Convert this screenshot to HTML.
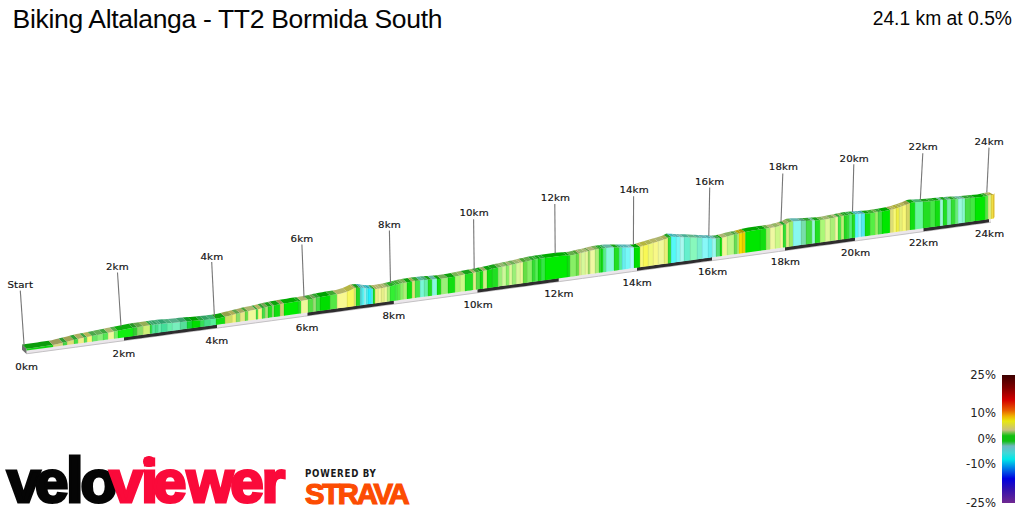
<!DOCTYPE html>
<html><head><meta charset="utf-8">
<style>
html,body{margin:0;padding:0;background:#fff;}
body{width:1024px;height:512px;overflow:hidden;position:relative;font-family:"Liberation Sans",Arial,sans-serif;}
#title{position:absolute;left:12.6px;top:3px;font-size:26.5px;letter-spacing:-0.33px;color:#050505;white-space:nowrap;line-height:32px;}
#dist{position:absolute;right:12px;top:6.8px;font-size:19.3px;color:#050505;white-space:nowrap;line-height:24px;}
svg{position:absolute;left:0;top:0;}
.lbl text{font-family:"DejaVu Sans",Verdana,sans-serif;font-size:9.3px;letter-spacing:0.1px;fill:#111;stroke:#111;stroke-width:0.15px;}
#legend text{font-family:"DejaVu Sans",Verdana,sans-serif;font-size:11.6px;fill:#222;text-anchor:end;}
#vv{position:absolute;left:0px;top:442px;font-family:"Liberation Sans",Arial,sans-serif;font-weight:bold;font-size:60px;padding-left:6.9px;-webkit-text-stroke:3px;line-height:80px;white-space:nowrap;}
#vv .a{color:#050505;-webkit-text-stroke-color:#050505;}
#vv .b{color:#fa0a3a;-webkit-text-stroke-color:#fa0a3a;}
#pb{position:absolute;left:305px;top:468.2px;font-family:"DejaVu Sans Condensed","DejaVu Sans",sans-serif;font-stretch:condensed;font-weight:bold;font-size:9.6px;letter-spacing:0.75px;color:#1a1a1a;line-height:12px;white-space:nowrap;}
#strava{position:absolute;left:305px;top:478.5px;font-family:"Liberation Sans",Arial,sans-serif;font-weight:bold;font-size:29.3px;letter-spacing:-2.3px;color:#fc4c02;-webkit-text-stroke:1.2px #fc4c02;line-height:30px;white-space:nowrap;}
</style></head><body>
<div id="title">Biking Altalanga - TT2 Bormida South</div>
<div id="dist">24.1 km at 0.5%</div>
<svg width="1024" height="512" viewBox="0 0 1024 512">
<defs>
<linearGradient id="lg" x1="0" y1="0" x2="0" y2="1">
<stop offset="0" stop-color="#3c0000"/>
<stop offset="0.10" stop-color="#800000"/>
<stop offset="0.195" stop-color="#d40000"/>
<stop offset="0.277" stop-color="#e86000"/>
<stop offset="0.32" stop-color="#f0b000"/>
<stop offset="0.36" stop-color="#e8e810"/>
<stop offset="0.43" stop-color="#c8c080"/>
<stop offset="0.475" stop-color="#10c010"/>
<stop offset="0.516" stop-color="#10c010"/>
<stop offset="0.555" stop-color="#70b8c0"/>
<stop offset="0.61" stop-color="#40d8d8"/>
<stop offset="0.658" stop-color="#00e8e8"/>
<stop offset="0.715" stop-color="#0090e8"/>
<stop offset="0.81" stop-color="#0000e0"/>
<stop offset="0.89" stop-color="#3010b0"/>
<stop offset="1" stop-color="#702890"/>
</linearGradient>
</defs>
<g id="ribbon">
<polygon points="26.50,350.17 34.54,349.09 42.58,348.01 50.61,346.93 58.65,345.85 66.69,344.77 74.72,343.69 82.76,342.60 90.80,341.52 98.84,340.44 106.88,339.36 114.91,338.27 122.95,337.19 130.99,336.11 139.02,335.02 147.06,333.94 155.10,332.85 163.14,331.77 171.17,330.68 179.21,329.60 187.25,328.51 195.29,327.43 203.32,326.34 211.36,325.25 219.40,324.17 227.44,323.08 235.47,321.99 243.51,320.91 251.55,319.82 259.59,318.73 267.62,317.64 275.66,316.55 283.70,315.47 291.74,314.38 299.77,313.29 307.81,312.20 315.85,311.11 323.89,310.02 331.93,308.93 339.96,307.84 348.00,306.75 356.04,305.65 364.07,304.56 372.11,303.47 380.15,302.38 388.19,301.29 396.22,300.19 404.26,299.10 412.30,298.01 420.34,296.91 428.38,295.82 436.41,294.73 444.45,293.63 452.49,292.54 460.52,291.44 468.56,290.35 476.60,289.25 484.64,288.16 492.67,287.06 500.71,285.97 508.75,284.87 516.79,283.77 524.83,282.68 532.86,281.58 540.90,280.48 548.94,279.38 556.98,278.29 565.01,277.19 573.05,276.09 581.09,274.99 589.12,273.89 597.16,272.79 605.20,271.69 613.24,270.59 621.27,269.49 629.31,268.39 637.35,267.29 645.39,266.19 653.42,265.09 661.46,263.99 669.50,262.89 677.54,261.78 685.57,260.68 693.61,259.58 701.65,258.48 709.69,257.37 717.73,256.27 725.76,255.17 733.80,254.06 741.84,252.96 749.88,251.85 757.91,250.75 765.95,249.65 773.99,248.54 782.02,247.43 790.06,246.33 798.10,245.22 806.14,244.12 814.17,243.01 822.21,241.90 830.25,240.80 838.29,239.69 846.32,238.58 854.36,237.47 862.40,236.36 870.44,235.26 878.47,234.15 886.51,233.04 894.55,231.93 902.59,230.82 910.62,229.71 918.66,228.60 926.70,227.49 934.74,226.38 942.77,225.27 950.81,224.16 958.85,223.05 966.89,221.93 974.92,220.82 982.96,219.71 991.00,218.60 991.00,222.40 982.96,223.51 974.92,224.62 966.89,225.73 958.85,226.85 950.81,227.96 942.77,229.07 934.74,230.18 926.70,231.29 918.66,232.40 910.62,233.51 902.59,234.62 894.55,235.73 886.51,236.84 878.47,237.95 870.44,239.06 862.40,240.16 854.36,241.27 846.32,242.38 838.29,243.49 830.25,244.60 822.21,245.70 814.17,246.81 806.14,247.92 798.10,249.02 790.06,250.13 782.02,251.23 773.99,252.34 765.95,253.45 757.91,254.55 749.88,255.65 741.84,256.76 733.80,257.86 725.76,258.97 717.73,260.07 709.69,261.17 701.65,262.28 693.61,263.38 685.57,264.48 677.54,265.58 669.50,266.69 661.46,267.79 653.42,268.89 645.39,269.99 637.35,271.09 629.31,272.19 621.27,273.29 613.24,274.39 605.20,275.49 597.16,276.59 589.12,277.69 581.09,278.79 573.05,279.89 565.01,280.99 556.98,282.09 548.94,283.18 540.90,284.28 532.86,285.38 524.83,286.48 516.79,287.57 508.75,288.67 500.71,289.77 492.67,290.86 484.64,291.96 476.60,293.05 468.56,294.15 460.52,295.24 452.49,296.34 444.45,297.43 436.41,298.53 428.38,299.62 420.34,300.71 412.30,301.81 404.26,302.90 396.22,303.99 388.19,305.09 380.15,306.18 372.11,307.27 364.07,308.36 356.04,309.45 348.00,310.55 339.96,311.64 331.93,312.73 323.89,313.82 315.85,314.91 307.81,316.00 299.77,317.09 291.74,318.18 283.70,319.27 275.66,320.35 267.62,321.44 259.59,322.53 251.55,323.62 243.51,324.71 235.47,325.79 227.44,326.88 219.40,327.97 211.36,329.05 203.32,330.14 195.29,331.23 187.25,332.31 179.21,333.40 171.17,334.48 163.14,335.57 155.10,336.65 147.06,337.74 139.02,338.82 130.99,339.91 122.95,340.99 114.91,342.07 106.88,343.16 98.84,344.24 90.80,345.32 82.76,346.40 74.72,347.49 66.69,348.57 58.65,349.65 50.61,350.73 42.58,351.81 34.54,352.89 26.50,353.97" fill="#ebe6eb"/>
<polyline points="26.50,353.77 42.85,351.58 59.19,349.38 75.54,347.18 91.89,344.98 108.24,342.77 124.58,340.57 140.93,338.37 157.28,336.16 173.63,333.95 189.97,331.75 206.32,329.54 222.67,327.33 239.02,325.11 255.36,322.90 271.71,320.69 288.06,318.47 304.41,316.26 320.75,314.04 337.10,311.82 353.45,309.61 369.80,307.39 386.14,305.16 402.49,302.94 418.84,300.72 435.19,298.49 451.53,296.27 467.88,294.04 484.23,291.81 500.58,289.58 516.92,287.35 533.27,285.12 549.62,282.89 565.97,280.66 582.31,278.42 598.66,276.19 615.01,273.95 631.36,271.71 647.70,269.47 664.05,267.23 680.40,264.99 696.75,262.75 713.09,260.51 729.44,258.26 745.79,256.02 762.14,253.77 778.48,251.52 794.83,249.27 811.18,247.02 827.53,244.77 843.87,242.52 860.22,240.27 876.57,238.01 892.92,235.76 909.26,233.50 925.61,231.24 941.96,228.98 958.31,226.72 974.65,224.46 991.00,222.20" fill="none" stroke="#c4c2c4" stroke-width="1"/>
<polygon points="124.00,337.05 132.45,335.91 140.91,334.77 149.36,333.63 157.82,332.49 166.27,331.35 174.73,330.20 183.18,329.06 191.64,327.92 200.09,326.78 208.55,325.64 217.00,324.49 217.00,327.89 208.55,329.04 200.09,330.18 191.64,331.32 183.18,332.46 174.73,333.60 166.27,334.75 157.82,335.89 149.36,337.03 140.91,338.17 132.45,339.31 124.00,340.45" fill="#2e2c2e"/>
<polygon points="307.50,312.24 316.13,311.07 324.76,309.90 333.39,308.73 342.02,307.56 350.65,306.39 359.28,305.21 367.91,304.04 376.54,302.87 385.17,301.70 393.80,300.52 393.80,303.92 385.17,305.10 376.54,306.27 367.91,307.44 359.28,308.61 350.65,309.79 342.02,310.96 333.39,312.13 324.76,313.30 316.13,314.47 307.50,315.64" fill="#2e2c2e"/>
<polygon points="477.50,289.13 485.62,288.02 493.74,286.92 501.86,285.81 509.98,284.70 518.10,283.59 526.22,282.49 534.34,281.38 542.46,280.27 550.58,279.16 558.70,278.05 558.70,281.45 550.58,282.56 542.46,283.67 534.34,284.78 526.22,285.89 518.10,286.99 509.98,288.10 501.86,289.21 493.74,290.32 485.62,291.42 477.50,292.53" fill="#2e2c2e"/>
<polygon points="637.00,267.34 645.33,266.20 653.67,265.06 662.00,263.91 670.33,262.77 678.67,261.63 687.00,260.49 695.33,259.34 703.67,258.20 712.00,257.06 712.00,260.46 703.67,261.60 695.33,262.74 687.00,263.89 678.67,265.03 670.33,266.17 662.00,267.31 653.67,268.46 645.33,269.60 637.00,270.74" fill="#2e2c2e"/>
<polygon points="785.00,247.03 793.75,245.82 802.50,244.62 811.25,243.41 820.00,242.21 828.75,241.00 837.50,239.80 846.25,238.59 855.00,237.39 855.00,240.79 846.25,241.99 837.50,243.20 828.75,244.40 820.00,245.61 811.25,246.81 802.50,248.02 793.75,249.22 785.00,250.43" fill="#2e2c2e"/>
<polygon points="923.50,227.93 931.69,226.80 939.88,225.67 948.06,224.54 956.25,223.41 964.44,222.27 972.62,221.14 980.81,220.01 989.00,218.87 989.00,222.27 980.81,223.41 972.62,224.54 964.44,225.67 956.25,226.81 948.06,227.94 939.88,229.07 931.69,230.20 923.50,231.33" fill="#2e2c2e"/>
<polygon points="22.00,344.40 26.50,348.65 26.50,353.97 22.00,349.72" fill="#6e6e6e"/>
<polygon points="26.50,348.65 30.29,348.19 34.07,347.66 37.86,347.13 41.64,346.60 45.43,346.07 49.21,345.54 53.00,345.01 53.00,346.91 49.21,347.42 45.43,347.93 41.64,348.44 37.86,348.95 34.07,349.46 30.29,349.96 26.50,350.47" fill="#11d611"/>
<polygon points="53.00,345.01 56.33,344.34 59.67,343.51 63.00,342.68 63.00,345.56 59.67,346.01 56.33,346.46 53.00,346.91" fill="#d6d680"/>
<polygon points="63.00,342.68 65.00,342.18 67.00,341.68 67.00,345.03 65.00,345.30 63.00,345.56" fill="#44d644"/>
<polygon points="67.00,341.68 70.50,340.81 74.00,339.93 74.00,344.08 70.50,344.56 67.00,345.03" fill="#dede77"/>
<polygon points="74.00,339.93 76.00,339.43 78.00,338.93 78.00,343.55 76.00,343.81 74.00,344.08" fill="#44de44"/>
<polygon points="78.00,338.93 81.00,338.25 84.00,337.65 84.00,342.74 81.00,343.14 78.00,343.55" fill="#efef88"/>
<polygon points="84.00,337.65 87.00,337.04 87.00,342.33 84.00,342.74" fill="#55de55"/>
<polygon points="87.00,337.04 89.50,336.54 92.00,336.03 92.00,341.66 89.50,342.00 87.00,342.33" fill="#f8f877"/>
<polygon points="92.00,336.03 94.50,335.53 97.00,335.03 97.00,340.99 94.50,341.32 92.00,341.66" fill="#66e766"/>
<polygon points="97.00,335.03 100.00,334.42 103.00,333.81 103.00,340.18 100.00,340.58 97.00,340.99" fill="#88ef77"/>
<polygon points="103.00,333.81 105.50,333.31 108.00,332.81 108.00,339.51 105.50,339.84 103.00,340.18" fill="#55e755"/>
<polygon points="108.00,332.81 111.00,332.20 114.00,331.59 114.00,338.70 111.00,339.10 108.00,339.51" fill="#eff89a"/>
<polygon points="114.00,331.59 116.00,331.19 118.00,330.79 118.00,338.16 116.00,338.43 114.00,338.70" fill="#77ef66"/>
<polygon points="118.00,330.79 121.75,330.03 125.50,329.27 129.25,328.52 133.00,327.85 133.00,336.14 129.25,336.64 125.50,337.15 121.75,337.65 118.00,338.16" fill="#11ef11"/>
<polygon points="133.00,327.85 135.00,327.50 137.00,327.15 137.00,335.60 135.00,335.87 133.00,336.14" fill="#33cd33"/>
<polygon points="137.00,327.15 140.00,326.70 143.00,326.25 143.00,334.79 140.00,335.19 137.00,335.60" fill="#88de66"/>
<polygon points="143.00,326.25 146.50,325.73 150.00,325.22 150.00,333.84 146.50,334.31 143.00,334.79" fill="#cdef77"/>
<polygon points="150.00,325.22 152.00,324.98 152.00,333.57 150.00,333.84" fill="#33de44"/>
<polygon points="152.00,324.98 155.00,324.61 155.00,333.17 152.00,333.57" fill="#55e79a"/>
<polygon points="155.00,324.61 158.00,324.25 158.00,332.76 155.00,333.17" fill="#44de88"/>
<polygon points="158.00,324.25 161.00,323.88 161.00,332.36 158.00,332.76" fill="#66efab"/>
<polygon points="161.00,323.88 164.00,323.59 167.00,323.35 167.00,331.55 164.00,331.95 161.00,332.36" fill="#44de9a"/>
<polygon points="167.00,323.35 169.50,323.14 172.00,322.94 172.00,330.87 169.50,331.21 167.00,331.55" fill="#66efab"/>
<polygon points="172.00,322.94 174.67,322.72 177.33,322.45 180.00,322.18 180.00,329.79 177.33,330.15 174.67,330.51 172.00,330.87" fill="#77efbc"/>
<polygon points="180.00,322.18 183.50,321.82 187.00,321.46 187.00,328.85 183.50,329.32 180.00,329.79" fill="#55de9a"/>
<polygon points="187.00,321.46 189.50,321.26 192.00,321.05 192.00,328.17 189.50,328.51 187.00,328.85" fill="#11d633"/>
<polygon points="192.00,321.05 194.67,320.84 197.33,320.62 200.00,320.39 200.00,327.09 197.33,327.45 194.67,327.81 192.00,328.17" fill="#00de00"/>
<polygon points="200.00,320.39 202.00,320.19 204.00,319.98 204.00,326.55 202.00,326.82 200.00,327.09" fill="#33de55"/>
<polygon points="204.00,319.98 207.00,319.68 210.00,319.37 210.00,325.74 207.00,326.14 204.00,326.55" fill="#44de88"/>
<polygon points="210.00,319.37 213.00,319.04 216.00,318.64 216.00,324.93 213.00,325.33 210.00,325.74" fill="#55ef9a"/>
<polygon points="216.00,318.64 219.00,318.20 222.00,317.54 225.00,316.87 225.00,323.71 222.00,324.12 219.00,324.52 216.00,324.93" fill="#11de11"/>
<polygon points="225.00,316.87 228.50,316.00 232.00,315.12 232.00,322.76 228.50,323.24 225.00,323.71" fill="#cdde66"/>
<polygon points="232.00,315.12 234.00,314.62 236.00,314.12 236.00,322.22 234.00,322.49 232.00,322.76" fill="#efef77"/>
<polygon points="236.00,314.12 238.00,313.62 240.00,313.12 240.00,321.68 238.00,321.95 236.00,322.22" fill="#88de66"/>
<polygon points="240.00,313.12 242.50,312.50 245.00,311.87 245.00,321.01 242.50,321.34 240.00,321.68" fill="#e7e788"/>
<polygon points="245.00,311.87 248.00,311.13 248.00,320.60 245.00,321.01" fill="#66de44"/>
<polygon points="248.00,311.13 250.67,310.55 253.33,310.08 256.00,309.61 256.00,319.52 253.33,319.88 250.67,320.24 248.00,320.60" fill="#eff89a"/>
<polygon points="256.00,309.61 258.00,309.19 258.00,319.25 256.00,319.52" fill="#44de44"/>
<polygon points="258.00,309.19 260.00,308.69 262.00,308.19 262.00,318.70 260.00,318.98 258.00,319.25" fill="#f8f888"/>
<polygon points="262.00,308.19 265.00,307.44 265.00,318.30 262.00,318.70" fill="#44de44"/>
<polygon points="265.00,307.44 268.00,306.69 268.00,317.89 265.00,318.30" fill="#abde77"/>
<polygon points="268.00,306.69 270.00,306.21 272.00,305.81 272.00,317.35 270.00,317.62 268.00,317.89" fill="#22de22"/>
<polygon points="272.00,305.81 274.00,305.41 274.00,317.08 272.00,317.35" fill="#9ade77"/>
<polygon points="274.00,305.41 277.00,304.80 280.00,304.20 280.00,316.27 277.00,316.67 274.00,317.08" fill="#11de11"/>
<polygon points="280.00,304.20 282.00,303.79 284.00,303.48 284.00,315.72 282.00,316.00 280.00,316.27" fill="#cdcd77"/>
<polygon points="284.00,303.48 287.50,302.95 291.00,302.41 294.50,301.87 298.00,301.35 298.00,313.83 294.50,314.30 291.00,314.78 287.50,315.25 284.00,315.72" fill="#00ec00"/>
<polygon points="298.00,301.35 301.00,300.90 301.00,313.42 298.00,313.83" fill="#22de22"/>
<polygon points="301.00,300.90 304.50,300.37 308.00,299.78 308.00,312.47 304.50,312.95 301.00,313.42" fill="#eff89a"/>
<polygon points="308.00,299.78 310.50,299.22 313.00,298.67 313.00,311.79 310.50,312.13 308.00,312.47" fill="#55de44"/>
<polygon points="313.00,298.67 316.00,298.00 316.00,311.39 313.00,311.79" fill="#9ade77"/>
<polygon points="316.00,298.00 318.00,297.56 320.00,297.13 320.00,310.84 318.00,311.12 316.00,311.39" fill="#44de44"/>
<polygon points="320.00,297.13 323.33,296.53 326.67,295.92 330.00,295.32 330.00,309.49 326.67,309.94 323.33,310.39 320.00,310.84" fill="#00de00"/>
<polygon points="330.00,295.32 333.50,294.72 337.00,294.18 337.00,308.54 333.50,309.01 330.00,309.49" fill="#55e744"/>
<polygon points="337.00,294.18 340.33,293.67 343.67,292.80 347.00,291.75 347.00,307.18 343.67,307.63 340.33,308.09 337.00,308.54" fill="#f8f891"/>
<polygon points="347.00,291.75 350.50,290.20 354.00,288.33 354.00,306.23 350.50,306.71 347.00,307.18" fill="#f8f85e"/>
<polygon points="354.00,288.33 356.00,287.97 356.00,305.96 354.00,306.23" fill="#e7e777"/>
<polygon points="356.00,287.97 358.00,287.86 360.00,287.74 360.00,305.42 358.00,305.69 356.00,305.96" fill="#22d622"/>
<polygon points="360.00,287.74 362.00,287.72 362.00,305.14 360.00,305.42" fill="#55d6d6"/>
<polygon points="362.00,287.72 364.00,288.00 364.00,304.87 362.00,305.14" fill="#55f8f8"/>
<polygon points="364.00,288.00 366.00,288.28 366.00,304.60 364.00,304.87" fill="#9af8f8"/>
<polygon points="366.00,288.28 368.00,288.57 368.00,304.33 366.00,304.60" fill="#55efef"/>
<polygon points="368.00,288.57 371.00,288.78 371.00,303.92 368.00,304.33" fill="#22efff"/>
<polygon points="371.00,288.78 373.00,288.89 373.00,303.65 371.00,303.92" fill="#55eff8"/>
<polygon points="373.00,288.89 375.00,289.00 375.00,303.38 373.00,303.65" fill="#22de22"/>
<polygon points="375.00,289.00 378.00,288.66 378.00,302.97 375.00,303.38" fill="#efef88"/>
<polygon points="378.00,288.66 381.00,288.23 381.00,302.56 378.00,302.97" fill="#f8f89a"/>
<polygon points="381.00,288.23 384.00,287.71 384.00,302.16 381.00,302.56" fill="#e7ef88"/>
<polygon points="384.00,287.71 387.00,287.10 387.00,301.75 384.00,302.16" fill="#eff89a"/>
<polygon points="387.00,287.10 390.00,286.46 390.00,301.34 387.00,301.75" fill="#abef77"/>
<polygon points="390.00,286.46 392.50,285.74 395.00,285.03 395.00,300.66 392.50,301.00 390.00,301.34" fill="#33ef33"/>
<polygon points="395.00,285.03 397.00,284.52 397.00,300.39 395.00,300.66" fill="#44ef44"/>
<polygon points="397.00,284.52 400.00,283.79 400.00,299.98 397.00,300.39" fill="#55ef44"/>
<polygon points="400.00,283.79 403.00,283.09 403.00,299.57 400.00,299.98" fill="#88ef66"/>
<polygon points="403.00,283.09 405.00,282.73 407.00,282.38 407.00,299.03 405.00,299.30 403.00,299.57" fill="#abef77"/>
<polygon points="407.00,282.38 409.50,281.94 412.00,281.50 412.00,298.35 409.50,298.69 407.00,299.03" fill="#11de11"/>
<polygon points="412.00,281.50 415.00,281.00 415.00,297.94 412.00,298.35" fill="#dee777"/>
<polygon points="415.00,281.00 417.50,280.75 420.00,280.49 420.00,297.26 417.50,297.60 415.00,297.94" fill="#44e744"/>
<polygon points="420.00,280.49 422.00,280.29 424.00,280.09 424.00,296.72 422.00,296.99 420.00,297.26" fill="#77f8d6"/>
<polygon points="424.00,280.09 426.00,279.88 428.00,279.71 428.00,296.17 426.00,296.44 424.00,296.72" fill="#66efab"/>
<polygon points="428.00,279.71 430.00,279.57 432.00,279.43 432.00,295.63 430.00,295.90 428.00,296.17" fill="#22de22"/>
<polygon points="432.00,279.43 434.50,279.26 437.00,279.08 437.00,294.95 434.50,295.29 432.00,295.63" fill="#88f8de"/>
<polygon points="437.00,279.08 439.00,278.94 441.00,278.71 441.00,294.40 439.00,294.68 437.00,294.95" fill="#11de11"/>
<polygon points="441.00,278.71 444.50,278.24 448.00,277.77 448.00,293.45 444.50,293.93 441.00,294.40" fill="#9aef77"/>
<polygon points="448.00,277.77 451.50,277.30 455.00,276.57 455.00,292.50 451.50,292.97 448.00,293.45" fill="#11de11"/>
<polygon points="455.00,276.57 457.50,276.02 460.00,275.46 460.00,291.82 457.50,292.16 455.00,292.50" fill="#abf877"/>
<polygon points="460.00,275.46 462.50,274.91 465.00,274.37 465.00,291.13 462.50,291.47 460.00,291.82" fill="#cdf888"/>
<polygon points="465.00,274.37 467.67,273.89 470.33,273.40 473.00,272.92 473.00,290.04 470.33,290.41 467.67,290.77 465.00,291.13" fill="#22de22"/>
<polygon points="473.00,272.92 476.00,272.37 476.00,289.64 473.00,290.04" fill="#deef88"/>
<polygon points="476.00,272.37 478.00,271.99 480.00,271.59 480.00,289.09 478.00,289.36 476.00,289.64" fill="#55de44"/>
<polygon points="480.00,271.59 483.00,270.98 483.00,288.68 480.00,289.09" fill="#11de11"/>
<polygon points="483.00,270.98 485.00,270.58 487.00,270.17 487.00,288.14 485.00,288.41 483.00,288.68" fill="#cdef88"/>
<polygon points="487.00,270.17 489.50,269.67 492.00,269.05 492.00,287.45 489.50,287.80 487.00,288.14" fill="#11de11"/>
<polygon points="492.00,269.05 495.00,268.30 498.00,267.60 498.00,286.64 495.00,287.05 492.00,287.45" fill="#22de22"/>
<polygon points="498.00,267.60 500.00,267.20 502.00,266.80 502.00,286.09 500.00,286.36 498.00,286.64" fill="#9aef77"/>
<polygon points="502.00,266.80 504.00,266.39 506.00,265.99 506.00,285.55 504.00,285.82 502.00,286.09" fill="#cdf89a"/>
<polygon points="506.00,265.99 509.00,265.38 509.00,285.14 506.00,285.55" fill="#88ef66"/>
<polygon points="509.00,265.38 512.00,264.70 512.00,284.73 509.00,285.14" fill="#def89a"/>
<polygon points="512.00,264.70 514.00,264.23 516.00,263.76 516.00,284.18 514.00,284.45 512.00,284.73" fill="#9aef77"/>
<polygon points="516.00,263.76 518.00,263.30 520.00,262.83 520.00,283.64 518.00,283.91 516.00,284.18" fill="#d6f89a"/>
<polygon points="520.00,262.83 523.00,262.14 523.00,283.23 520.00,283.64" fill="#eff89a"/>
<polygon points="523.00,262.14 525.00,261.69 527.00,261.25 527.00,282.68 525.00,282.95 523.00,283.23" fill="#66de44"/>
<polygon points="527.00,261.25 529.50,260.70 532.00,260.14 532.00,282.00 529.50,282.34 527.00,282.68" fill="#88ef66"/>
<polygon points="532.00,260.14 535.00,259.51 535.00,281.59 532.00,282.00" fill="#33de33"/>
<polygon points="535.00,259.51 538.00,259.06 538.00,281.18 535.00,281.59" fill="#55ef55"/>
<polygon points="538.00,259.06 541.00,258.61 541.00,280.77 538.00,281.18" fill="#11de11"/>
<polygon points="541.00,258.61 543.00,258.31 545.00,258.01 545.00,280.22 543.00,280.50 541.00,280.77" fill="#33e744"/>
<polygon points="545.00,258.01 548.67,257.49 552.33,257.00 556.00,256.51 559.67,256.03 563.33,255.78 567.00,255.52 567.00,277.22 563.33,277.72 559.67,278.22 556.00,278.72 552.33,279.22 548.67,279.72 545.00,280.22" fill="#00ec00"/>
<polygon points="567.00,255.52 570.00,255.31 570.00,276.81 567.00,277.22" fill="#11de11"/>
<polygon points="570.00,255.31 573.00,254.94 576.00,254.24 576.00,275.99 573.00,276.40 570.00,276.81" fill="#88ef66"/>
<polygon points="576.00,254.24 579.00,253.53 579.00,275.58 576.00,275.99" fill="#66de44"/>
<polygon points="579.00,253.53 581.00,253.07 581.00,275.30 579.00,275.58" fill="#dee788"/>
<polygon points="581.00,253.07 583.00,252.60 585.00,252.12 585.00,274.76 583.00,275.03 581.00,275.30" fill="#d6f89a"/>
<polygon points="585.00,252.12 588.00,251.37 588.00,274.35 585.00,274.76" fill="#e7f89a"/>
<polygon points="588.00,251.37 590.00,250.87 590.00,274.07 588.00,274.35" fill="#9ade66"/>
<polygon points="590.00,250.87 592.50,250.25 595.00,249.63 595.00,273.39 592.50,273.73 590.00,274.07" fill="#eff8a2"/>
<polygon points="595.00,249.63 597.00,249.13 599.00,248.88 599.00,272.84 597.00,273.11 595.00,273.39" fill="#abef77"/>
<polygon points="599.00,248.88 601.00,248.64 601.00,272.57 599.00,272.84" fill="#33de33"/>
<polygon points="601.00,248.64 603.00,248.39 603.00,272.29 601.00,272.57" fill="#11de11"/>
<polygon points="603.00,248.39 606.00,248.03 606.00,271.88 603.00,272.29" fill="#55ef88"/>
<polygon points="606.00,248.03 608.67,247.70 611.33,247.60 614.00,247.59 614.00,270.79 611.33,271.15 608.67,271.52 606.00,271.88" fill="#88f8de"/>
<polygon points="614.00,247.59 616.50,247.59 619.00,247.59 619.00,270.10 616.50,270.45 614.00,270.79" fill="#22de22"/>
<polygon points="619.00,247.59 622.00,247.58 622.00,269.69 619.00,270.10" fill="#55ef9a"/>
<polygon points="622.00,247.58 625.00,247.58 625.00,269.28 622.00,269.69" fill="#66efef"/>
<polygon points="625.00,247.58 627.50,247.57 630.00,247.57 630.00,268.60 627.50,268.94 625.00,269.28" fill="#77f8f8"/>
<polygon points="630.00,247.57 632.00,247.56 634.00,247.56 634.00,268.05 632.00,268.32 630.00,268.60" fill="#abf8ff"/>
<polygon points="634.00,247.56 637.00,247.55 640.00,246.83 640.00,267.23 637.00,267.64 634.00,268.05" fill="#00de00"/>
<polygon points="640.00,246.83 643.00,245.95 643.00,266.82 640.00,267.23" fill="#f8f877"/>
<polygon points="643.00,245.95 645.50,245.20 648.00,244.46 648.00,266.13 645.50,266.48 643.00,266.82" fill="#f8f855"/>
<polygon points="648.00,244.46 650.50,243.71 653.00,242.97 653.00,265.45 650.50,265.79 648.00,266.13" fill="#eff877"/>
<polygon points="653.00,242.97 655.50,242.22 658.00,241.45 658.00,264.76 655.50,265.11 653.00,265.45" fill="#f8f888"/>
<polygon points="658.00,241.45 661.00,240.53 664.00,239.62 664.00,263.94 661.00,264.35 658.00,264.76" fill="#eff89a"/>
<polygon points="664.00,239.62 666.00,239.01 668.00,238.10 668.00,263.39 666.00,263.67 664.00,263.94" fill="#e7ef77"/>
<polygon points="668.00,238.10 671.00,236.62 671.00,262.98 668.00,263.39" fill="#33de33"/>
<polygon points="671.00,236.62 673.50,236.75 676.00,236.89 676.00,262.30 673.50,262.64 671.00,262.98" fill="#55f8f8"/>
<polygon points="676.00,236.89 678.00,237.00 680.00,237.09 680.00,261.75 678.00,262.02 676.00,262.30" fill="#77f8f8"/>
<polygon points="680.00,237.09 682.00,237.15 684.00,237.21 684.00,261.20 682.00,261.47 680.00,261.75" fill="#abf8ef"/>
<polygon points="684.00,237.21 687.00,237.30 690.00,237.39 690.00,260.38 687.00,260.79 684.00,261.20" fill="#66efcd"/>
<polygon points="690.00,237.39 693.50,237.52 697.00,237.69 697.00,259.42 693.50,259.90 690.00,260.38" fill="#88f8bc"/>
<polygon points="697.00,237.69 699.50,237.80 702.00,237.92 702.00,258.73 699.50,259.07 697.00,259.42" fill="#77efcd"/>
<polygon points="702.00,237.92 705.00,238.06 708.00,238.19 708.00,257.91 705.00,258.32 702.00,258.73" fill="#88f8f8"/>
<polygon points="708.00,238.19 710.00,238.29 712.00,238.38 712.00,257.36 710.00,257.63 708.00,257.91" fill="#66efef"/>
<polygon points="712.00,238.38 714.00,238.47 716.00,238.56 716.00,256.81 714.00,257.08 712.00,257.36" fill="#9af8ef"/>
<polygon points="716.00,238.56 718.00,238.45 720.00,238.14 720.00,256.26 718.00,256.53 716.00,256.81" fill="#55de77"/>
<polygon points="720.00,238.14 722.00,237.83 722.00,255.98 720.00,256.26" fill="#11de11"/>
<polygon points="722.00,237.83 724.50,237.17 727.00,236.46 727.00,255.30 724.50,255.64 722.00,255.98" fill="#eff89a"/>
<polygon points="727.00,236.46 730.50,235.54 734.00,234.83 734.00,254.34 730.50,254.82 727.00,255.30" fill="#bcf888"/>
<polygon points="734.00,234.83 737.00,234.22 737.00,253.92 734.00,254.34" fill="#66de55"/>
<polygon points="737.00,234.22 739.00,233.72 739.00,253.65 737.00,253.92" fill="#abef77"/>
<polygon points="739.00,233.72 742.00,232.95 742.00,253.24 739.00,253.65" fill="#f8de00"/>
<polygon points="742.00,232.95 745.50,232.07 745.50,252.76 742.00,253.24" fill="#e7cd00"/>
<polygon points="745.50,232.07 749.12,231.15 752.75,230.56 756.38,230.02 760.00,229.48 760.00,250.76 756.38,251.26 752.75,251.76 749.12,252.26 745.50,252.76" fill="#00e700"/>
<polygon points="760.00,229.48 763.00,229.03 766.00,228.58 766.00,249.94 763.00,250.35 760.00,250.76" fill="#11de11"/>
<polygon points="766.00,228.58 768.00,228.28 770.00,227.98 770.00,249.39 768.00,249.66 766.00,249.94" fill="#9aef66"/>
<polygon points="770.00,227.98 772.50,227.61 775.00,227.17 775.00,248.70 772.50,249.04 770.00,249.39" fill="#eff8a2"/>
<polygon points="775.00,227.17 777.50,226.48 780.00,225.80 780.00,248.01 777.50,248.36 775.00,248.70" fill="#cdf888"/>
<polygon points="780.00,225.80 783.00,224.98 783.00,247.60 780.00,248.01" fill="#f8f89a"/>
<polygon points="783.00,224.98 786.00,224.16 786.00,247.19 783.00,247.60" fill="#33de33"/>
<polygon points="786.00,224.16 789.00,222.44 789.00,246.78 786.00,247.19" fill="#deef88"/>
<polygon points="789.00,222.44 791.00,221.74 793.00,221.29 793.00,246.22 791.00,246.50 789.00,246.78" fill="#9aef66"/>
<polygon points="793.00,221.29 795.67,221.15 798.33,221.12 801.00,221.09 801.00,245.12 798.33,245.49 795.67,245.86 793.00,246.22" fill="#88f8ef"/>
<polygon points="801.00,221.09 803.50,221.06 806.00,220.96 806.00,244.44 803.50,244.78 801.00,245.12" fill="#77deab"/>
<polygon points="806.00,220.96 809.00,220.77 812.00,220.59 812.00,243.61 809.00,244.02 806.00,244.44" fill="#44de44"/>
<polygon points="812.00,220.59 815.00,220.40 815.00,243.20 812.00,243.61" fill="#9af8d6"/>
<polygon points="815.00,220.40 817.50,220.22 820.00,220.04 820.00,242.51 817.50,242.85 815.00,243.20" fill="#22de22"/>
<polygon points="820.00,220.04 822.50,219.86 825.00,219.62 825.00,241.82 822.50,242.16 820.00,242.51" fill="#abf877"/>
<polygon points="825.00,219.62 827.50,219.11 830.00,218.61 830.00,241.13 827.50,241.47 825.00,241.82" fill="#def89a"/>
<polygon points="830.00,218.61 832.50,218.10 835.00,217.60 835.00,240.44 832.50,240.79 830.00,241.13" fill="#abef77"/>
<polygon points="835.00,217.60 838.00,216.99 838.00,240.03 835.00,240.44" fill="#eff8a2"/>
<polygon points="838.00,216.99 841.00,216.39 841.00,239.61 838.00,240.03" fill="#44e744"/>
<polygon points="841.00,216.39 844.00,215.78 844.00,239.20 841.00,239.61" fill="#bcef77"/>
<polygon points="844.00,215.78 846.00,215.38 846.00,238.93 844.00,239.20" fill="#22de22"/>
<polygon points="846.00,215.38 849.00,214.77 849.00,238.51 846.00,238.93" fill="#33de33"/>
<polygon points="849.00,214.77 852.00,214.45 852.00,238.10 849.00,238.51" fill="#55ef77"/>
<polygon points="852.00,214.45 855.00,214.18 855.00,237.69 852.00,238.10" fill="#22de22"/>
<polygon points="855.00,214.18 858.00,213.95 858.00,237.27 855.00,237.69" fill="#55f8f8"/>
<polygon points="858.00,213.95 861.00,213.79 861.00,236.86 858.00,237.27" fill="#88f8ff"/>
<polygon points="861.00,213.79 863.00,213.68 865.00,213.58 865.00,236.31 863.00,236.58 861.00,236.86" fill="#55e7ef"/>
<polygon points="865.00,213.58 867.50,213.44 870.00,213.26 870.00,235.62 867.50,235.96 865.00,236.31" fill="#11de11"/>
<polygon points="870.00,213.26 872.50,212.89 875.00,212.51 875.00,234.93 872.50,235.27 870.00,235.62" fill="#55ef44"/>
<polygon points="875.00,212.51 878.00,212.06 878.00,234.51 875.00,234.93" fill="#9aef66"/>
<polygon points="878.00,212.06 880.00,211.76 882.00,211.46 882.00,233.96 880.00,234.24 878.00,234.51" fill="#44de44"/>
<polygon points="882.00,211.46 884.67,210.92 887.33,210.39 890.00,209.85 890.00,232.86 887.33,233.23 884.67,233.59 882.00,233.96" fill="#00e700"/>
<polygon points="890.00,209.85 893.00,209.24 893.00,232.44 890.00,232.86" fill="#dede77"/>
<polygon points="893.00,209.24 896.00,208.42 896.00,232.03 893.00,232.44" fill="#f8f877"/>
<polygon points="896.00,208.42 899.00,207.37 899.00,231.62 896.00,232.03" fill="#efef44"/>
<polygon points="899.00,207.37 902.00,206.32 902.00,231.20 899.00,231.62" fill="#e7ef77"/>
<polygon points="902.00,206.32 904.00,205.62 906.00,204.92 906.00,230.65 904.00,230.92 902.00,231.20" fill="#f8f877"/>
<polygon points="906.00,204.92 908.00,204.09 910.00,203.13 910.00,230.10 908.00,230.37 906.00,230.65" fill="#d6d666"/>
<polygon points="910.00,203.13 912.50,202.36 915.00,202.25 915.00,229.41 912.50,229.75 910.00,230.10" fill="#11de11"/>
<polygon points="915.00,202.25 917.67,202.13 920.33,201.98 923.00,201.79 923.00,228.30 920.33,228.67 917.67,229.04 915.00,229.41" fill="#66f89a"/>
<polygon points="923.00,201.79 926.50,201.53 930.00,201.27 930.00,227.33 926.50,227.82 923.00,228.30" fill="#22de22"/>
<polygon points="930.00,201.27 932.50,201.07 935.00,200.82 935.00,226.64 932.50,226.99 930.00,227.33" fill="#44e744"/>
<polygon points="935.00,200.82 937.50,200.56 940.00,200.31 940.00,225.95 937.50,226.30 935.00,226.64" fill="#11de11"/>
<polygon points="940.00,200.31 943.00,200.00 943.00,225.54 940.00,225.95" fill="#9af8d6"/>
<polygon points="943.00,200.00 945.00,199.82 947.00,199.70 947.00,224.98 945.00,225.26 943.00,225.54" fill="#22de22"/>
<polygon points="947.00,199.70 949.00,199.57 951.00,199.45 951.00,224.43 949.00,224.71 947.00,224.98" fill="#77efab"/>
<polygon points="951.00,199.45 953.00,199.32 955.00,199.20 955.00,223.88 953.00,224.15 951.00,224.43" fill="#33de33"/>
<polygon points="955.00,199.20 958.00,199.00 958.00,223.46 955.00,223.88" fill="#66ef77"/>
<polygon points="958.00,199.00 960.00,198.86 962.00,198.71 962.00,222.91 960.00,223.19 958.00,223.46" fill="#9af8de"/>
<polygon points="962.00,198.71 965.00,198.49 965.00,222.50 962.00,222.91" fill="#88f8cd"/>
<polygon points="965.00,198.49 967.50,198.30 970.00,198.11 970.00,221.80 967.50,222.15 965.00,222.50" fill="#44de44"/>
<polygon points="970.00,198.11 972.50,197.87 975.00,197.64 975.00,221.11 972.50,221.46 970.00,221.80" fill="#44e744"/>
<polygon points="975.00,197.64 978.33,197.32 981.67,197.01 985.00,196.28 985.00,219.73 981.67,220.19 978.33,220.65 975.00,221.11" fill="#00e700"/>
<polygon points="985.00,196.28 988.00,195.54 988.00,219.31 985.00,219.73" fill="#55e744"/>
<polygon points="988.00,195.54 991.00,195.02 991.00,218.90 988.00,219.31" fill="#deef88"/>
<polygon points="991.00,195.02 994.00,194.95 994.00,218.48 991.00,218.90" fill="#efde44"/>
<line x1="53.30" y1="345.01" x2="53.30" y2="346.61" stroke="#b8b86e" stroke-width="0.6"/>
<line x1="63.30" y1="342.68" x2="63.30" y2="345.26" stroke="#3ab83a" stroke-width="0.6"/>
<line x1="67.30" y1="341.68" x2="67.30" y2="344.73" stroke="#bebe66" stroke-width="0.6"/>
<line x1="74.30" y1="339.93" x2="74.30" y2="343.78" stroke="#3abe3a" stroke-width="0.6"/>
<line x1="78.30" y1="338.93" x2="78.30" y2="343.25" stroke="#cdcd74" stroke-width="0.6"/>
<line x1="84.30" y1="337.65" x2="84.30" y2="342.44" stroke="#49be49" stroke-width="0.6"/>
<line x1="87.30" y1="337.04" x2="87.30" y2="342.03" stroke="#d5d566" stroke-width="0.6"/>
<line x1="92.30" y1="336.03" x2="92.30" y2="341.36" stroke="#57c657" stroke-width="0.6"/>
<line x1="97.30" y1="335.03" x2="97.30" y2="340.69" stroke="#74cd66" stroke-width="0.6"/>
<line x1="103.30" y1="333.81" x2="103.30" y2="339.88" stroke="#49c649" stroke-width="0.6"/>
<line x1="108.30" y1="332.81" x2="108.30" y2="339.21" stroke="#cdd584" stroke-width="0.6"/>
<line x1="114.30" y1="331.59" x2="114.30" y2="338.40" stroke="#66cd57" stroke-width="0.6"/>
<line x1="118.30" y1="330.79" x2="118.30" y2="337.86" stroke="#0ecd0e" stroke-width="0.6"/>
<line x1="133.30" y1="327.85" x2="133.30" y2="335.84" stroke="#2bb02b" stroke-width="0.6"/>
<line x1="137.30" y1="327.15" x2="137.30" y2="335.30" stroke="#74be57" stroke-width="0.6"/>
<line x1="143.30" y1="326.25" x2="143.30" y2="334.49" stroke="#b0cd66" stroke-width="0.6"/>
<line x1="150.30" y1="325.22" x2="150.30" y2="333.54" stroke="#2bbe3a" stroke-width="0.6"/>
<line x1="152.30" y1="324.98" x2="152.30" y2="333.27" stroke="#49c684" stroke-width="0.6"/>
<line x1="155.30" y1="324.61" x2="155.30" y2="332.87" stroke="#3abe74" stroke-width="0.6"/>
<line x1="158.30" y1="324.25" x2="158.30" y2="332.46" stroke="#57cd93" stroke-width="0.6"/>
<line x1="161.30" y1="323.88" x2="161.30" y2="332.06" stroke="#3abe84" stroke-width="0.6"/>
<line x1="167.30" y1="323.35" x2="167.30" y2="331.25" stroke="#57cd93" stroke-width="0.6"/>
<line x1="172.30" y1="322.94" x2="172.30" y2="330.57" stroke="#66cda1" stroke-width="0.6"/>
<line x1="180.30" y1="322.18" x2="180.30" y2="329.49" stroke="#49be84" stroke-width="0.6"/>
<line x1="187.30" y1="321.46" x2="187.30" y2="328.55" stroke="#0eb82b" stroke-width="0.6"/>
<line x1="192.30" y1="321.05" x2="192.30" y2="327.87" stroke="#00be00" stroke-width="0.6"/>
<line x1="200.30" y1="320.39" x2="200.30" y2="326.79" stroke="#2bbe49" stroke-width="0.6"/>
<line x1="204.30" y1="319.98" x2="204.30" y2="326.25" stroke="#3abe74" stroke-width="0.6"/>
<line x1="210.30" y1="319.37" x2="210.30" y2="325.44" stroke="#49cd84" stroke-width="0.6"/>
<line x1="216.30" y1="318.64" x2="216.30" y2="324.63" stroke="#0ebe0e" stroke-width="0.6"/>
<line x1="225.30" y1="316.87" x2="225.30" y2="323.41" stroke="#b0be57" stroke-width="0.6"/>
<line x1="232.30" y1="315.12" x2="232.30" y2="322.46" stroke="#cdcd66" stroke-width="0.6"/>
<line x1="236.30" y1="314.12" x2="236.30" y2="321.92" stroke="#74be57" stroke-width="0.6"/>
<line x1="240.30" y1="313.12" x2="240.30" y2="321.38" stroke="#c6c674" stroke-width="0.6"/>
<line x1="245.30" y1="311.87" x2="245.30" y2="320.71" stroke="#57be3a" stroke-width="0.6"/>
<line x1="248.30" y1="311.13" x2="248.30" y2="320.30" stroke="#cdd584" stroke-width="0.6"/>
<line x1="256.30" y1="309.61" x2="256.30" y2="319.22" stroke="#3abe3a" stroke-width="0.6"/>
<line x1="258.30" y1="309.19" x2="258.30" y2="318.95" stroke="#d5d574" stroke-width="0.6"/>
<line x1="262.30" y1="308.19" x2="262.30" y2="318.40" stroke="#3abe3a" stroke-width="0.6"/>
<line x1="265.30" y1="307.44" x2="265.30" y2="318.00" stroke="#93be66" stroke-width="0.6"/>
<line x1="268.30" y1="306.69" x2="268.30" y2="317.59" stroke="#1dbe1d" stroke-width="0.6"/>
<line x1="272.30" y1="305.81" x2="272.30" y2="317.05" stroke="#84be66" stroke-width="0.6"/>
<line x1="274.30" y1="305.41" x2="274.30" y2="316.78" stroke="#0ebe0e" stroke-width="0.6"/>
<line x1="280.30" y1="304.20" x2="280.30" y2="315.97" stroke="#b0b066" stroke-width="0.6"/>
<line x1="284.30" y1="303.48" x2="284.30" y2="315.42" stroke="#00ca00" stroke-width="0.6"/>
<line x1="298.30" y1="301.35" x2="298.30" y2="313.53" stroke="#1dbe1d" stroke-width="0.6"/>
<line x1="301.30" y1="300.90" x2="301.30" y2="313.12" stroke="#cdd584" stroke-width="0.6"/>
<line x1="308.30" y1="299.78" x2="308.30" y2="312.17" stroke="#49be3a" stroke-width="0.6"/>
<line x1="313.30" y1="298.67" x2="313.30" y2="311.49" stroke="#84be66" stroke-width="0.6"/>
<line x1="316.30" y1="298.00" x2="316.30" y2="311.09" stroke="#3abe3a" stroke-width="0.6"/>
<line x1="320.30" y1="297.13" x2="320.30" y2="310.54" stroke="#00be00" stroke-width="0.6"/>
<line x1="330.30" y1="295.32" x2="330.30" y2="309.19" stroke="#49c63a" stroke-width="0.6"/>
<line x1="337.30" y1="294.18" x2="337.30" y2="308.24" stroke="#d5d57c" stroke-width="0.6"/>
<line x1="347.30" y1="291.75" x2="347.30" y2="306.88" stroke="#d5d550" stroke-width="0.6"/>
<line x1="354.30" y1="288.33" x2="354.30" y2="305.93" stroke="#c6c666" stroke-width="0.6"/>
<line x1="356.30" y1="287.97" x2="356.30" y2="305.66" stroke="#1db81d" stroke-width="0.6"/>
<line x1="360.30" y1="287.74" x2="360.30" y2="305.12" stroke="#49b8b8" stroke-width="0.6"/>
<line x1="362.30" y1="287.72" x2="362.30" y2="304.84" stroke="#49d5d5" stroke-width="0.6"/>
<line x1="364.30" y1="288.00" x2="364.30" y2="304.57" stroke="#84d5d5" stroke-width="0.6"/>
<line x1="366.30" y1="288.28" x2="366.30" y2="304.30" stroke="#49cdcd" stroke-width="0.6"/>
<line x1="368.30" y1="288.57" x2="368.30" y2="304.03" stroke="#1dcddb" stroke-width="0.6"/>
<line x1="371.30" y1="288.78" x2="371.30" y2="303.62" stroke="#49cdd5" stroke-width="0.6"/>
<line x1="373.30" y1="288.89" x2="373.30" y2="303.35" stroke="#1dbe1d" stroke-width="0.6"/>
<line x1="375.30" y1="289.00" x2="375.30" y2="303.08" stroke="#cdcd74" stroke-width="0.6"/>
<line x1="378.30" y1="288.66" x2="378.30" y2="302.67" stroke="#d5d584" stroke-width="0.6"/>
<line x1="381.30" y1="288.23" x2="381.30" y2="302.26" stroke="#c6cd74" stroke-width="0.6"/>
<line x1="384.30" y1="287.71" x2="384.30" y2="301.86" stroke="#cdd584" stroke-width="0.6"/>
<line x1="387.30" y1="287.10" x2="387.30" y2="301.45" stroke="#93cd66" stroke-width="0.6"/>
<line x1="390.30" y1="286.46" x2="390.30" y2="301.04" stroke="#2bcd2b" stroke-width="0.6"/>
<line x1="395.30" y1="285.03" x2="395.30" y2="300.36" stroke="#3acd3a" stroke-width="0.6"/>
<line x1="397.30" y1="284.52" x2="397.30" y2="300.09" stroke="#49cd3a" stroke-width="0.6"/>
<line x1="400.30" y1="283.79" x2="400.30" y2="299.68" stroke="#74cd57" stroke-width="0.6"/>
<line x1="403.30" y1="283.09" x2="403.30" y2="299.27" stroke="#93cd66" stroke-width="0.6"/>
<line x1="407.30" y1="282.38" x2="407.30" y2="298.73" stroke="#0ebe0e" stroke-width="0.6"/>
<line x1="412.30" y1="281.50" x2="412.30" y2="298.05" stroke="#bec666" stroke-width="0.6"/>
<line x1="415.30" y1="281.00" x2="415.30" y2="297.64" stroke="#3ac63a" stroke-width="0.6"/>
<line x1="420.30" y1="280.49" x2="420.30" y2="296.96" stroke="#66d5b8" stroke-width="0.6"/>
<line x1="424.30" y1="280.09" x2="424.30" y2="296.42" stroke="#57cd93" stroke-width="0.6"/>
<line x1="428.30" y1="279.71" x2="428.30" y2="295.87" stroke="#1dbe1d" stroke-width="0.6"/>
<line x1="432.30" y1="279.43" x2="432.30" y2="295.33" stroke="#74d5be" stroke-width="0.6"/>
<line x1="437.30" y1="279.08" x2="437.30" y2="294.65" stroke="#0ebe0e" stroke-width="0.6"/>
<line x1="441.30" y1="278.71" x2="441.30" y2="294.10" stroke="#84cd66" stroke-width="0.6"/>
<line x1="448.30" y1="277.77" x2="448.30" y2="293.15" stroke="#0ebe0e" stroke-width="0.6"/>
<line x1="455.30" y1="276.57" x2="455.30" y2="292.20" stroke="#93d566" stroke-width="0.6"/>
<line x1="460.30" y1="275.46" x2="460.30" y2="291.52" stroke="#b0d574" stroke-width="0.6"/>
<line x1="465.30" y1="274.37" x2="465.30" y2="290.83" stroke="#1dbe1d" stroke-width="0.6"/>
<line x1="473.30" y1="272.92" x2="473.30" y2="289.74" stroke="#becd74" stroke-width="0.6"/>
<line x1="476.30" y1="272.37" x2="476.30" y2="289.34" stroke="#49be3a" stroke-width="0.6"/>
<line x1="480.30" y1="271.59" x2="480.30" y2="288.79" stroke="#0ebe0e" stroke-width="0.6"/>
<line x1="483.30" y1="270.98" x2="483.30" y2="288.38" stroke="#b0cd74" stroke-width="0.6"/>
<line x1="487.30" y1="270.17" x2="487.30" y2="287.84" stroke="#0ebe0e" stroke-width="0.6"/>
<line x1="492.30" y1="269.05" x2="492.30" y2="287.15" stroke="#1dbe1d" stroke-width="0.6"/>
<line x1="498.30" y1="267.60" x2="498.30" y2="286.34" stroke="#84cd66" stroke-width="0.6"/>
<line x1="502.30" y1="266.80" x2="502.30" y2="285.79" stroke="#b0d584" stroke-width="0.6"/>
<line x1="506.30" y1="265.99" x2="506.30" y2="285.25" stroke="#74cd57" stroke-width="0.6"/>
<line x1="509.30" y1="265.38" x2="509.30" y2="284.84" stroke="#bed584" stroke-width="0.6"/>
<line x1="512.30" y1="264.70" x2="512.30" y2="284.43" stroke="#84cd66" stroke-width="0.6"/>
<line x1="516.30" y1="263.76" x2="516.30" y2="283.88" stroke="#b8d584" stroke-width="0.6"/>
<line x1="520.30" y1="262.83" x2="520.30" y2="283.34" stroke="#cdd584" stroke-width="0.6"/>
<line x1="523.30" y1="262.14" x2="523.30" y2="282.93" stroke="#57be3a" stroke-width="0.6"/>
<line x1="527.30" y1="261.25" x2="527.30" y2="282.38" stroke="#74cd57" stroke-width="0.6"/>
<line x1="532.30" y1="260.14" x2="532.30" y2="281.70" stroke="#2bbe2b" stroke-width="0.6"/>
<line x1="535.30" y1="259.51" x2="535.30" y2="281.29" stroke="#49cd49" stroke-width="0.6"/>
<line x1="538.30" y1="259.06" x2="538.30" y2="280.88" stroke="#0ebe0e" stroke-width="0.6"/>
<line x1="541.30" y1="258.61" x2="541.30" y2="280.47" stroke="#2bc63a" stroke-width="0.6"/>
<line x1="545.30" y1="258.01" x2="545.30" y2="279.92" stroke="#00ca00" stroke-width="0.6"/>
<line x1="567.30" y1="255.52" x2="567.30" y2="276.92" stroke="#0ebe0e" stroke-width="0.6"/>
<line x1="570.30" y1="255.31" x2="570.30" y2="276.51" stroke="#74cd57" stroke-width="0.6"/>
<line x1="576.30" y1="254.24" x2="576.30" y2="275.69" stroke="#57be3a" stroke-width="0.6"/>
<line x1="579.30" y1="253.53" x2="579.30" y2="275.28" stroke="#bec674" stroke-width="0.6"/>
<line x1="581.30" y1="253.07" x2="581.30" y2="275.00" stroke="#b8d584" stroke-width="0.6"/>
<line x1="585.30" y1="252.12" x2="585.30" y2="274.46" stroke="#c6d584" stroke-width="0.6"/>
<line x1="588.30" y1="251.37" x2="588.30" y2="274.05" stroke="#84be57" stroke-width="0.6"/>
<line x1="590.30" y1="250.87" x2="590.30" y2="273.77" stroke="#cdd58b" stroke-width="0.6"/>
<line x1="595.30" y1="249.63" x2="595.30" y2="273.09" stroke="#93cd66" stroke-width="0.6"/>
<line x1="599.30" y1="248.88" x2="599.30" y2="272.54" stroke="#2bbe2b" stroke-width="0.6"/>
<line x1="601.30" y1="248.64" x2="601.30" y2="272.27" stroke="#0ebe0e" stroke-width="0.6"/>
<line x1="603.30" y1="248.39" x2="603.30" y2="271.99" stroke="#49cd74" stroke-width="0.6"/>
<line x1="606.30" y1="248.03" x2="606.30" y2="271.58" stroke="#74d5be" stroke-width="0.6"/>
<line x1="614.30" y1="247.59" x2="614.30" y2="270.49" stroke="#1dbe1d" stroke-width="0.6"/>
<line x1="619.30" y1="247.59" x2="619.30" y2="269.80" stroke="#49cd84" stroke-width="0.6"/>
<line x1="622.30" y1="247.58" x2="622.30" y2="269.39" stroke="#57cdcd" stroke-width="0.6"/>
<line x1="625.30" y1="247.58" x2="625.30" y2="268.98" stroke="#66d5d5" stroke-width="0.6"/>
<line x1="630.30" y1="247.57" x2="630.30" y2="268.30" stroke="#93d5db" stroke-width="0.6"/>
<line x1="634.30" y1="247.56" x2="634.30" y2="267.75" stroke="#00be00" stroke-width="0.6"/>
<line x1="640.30" y1="246.83" x2="640.30" y2="266.93" stroke="#d5d566" stroke-width="0.6"/>
<line x1="643.30" y1="245.95" x2="643.30" y2="266.52" stroke="#d5d549" stroke-width="0.6"/>
<line x1="648.30" y1="244.46" x2="648.30" y2="265.83" stroke="#cdd566" stroke-width="0.6"/>
<line x1="653.30" y1="242.97" x2="653.30" y2="265.15" stroke="#d5d574" stroke-width="0.6"/>
<line x1="658.30" y1="241.45" x2="658.30" y2="264.46" stroke="#cdd584" stroke-width="0.6"/>
<line x1="664.30" y1="239.62" x2="664.30" y2="263.64" stroke="#c6cd66" stroke-width="0.6"/>
<line x1="668.30" y1="238.10" x2="668.30" y2="263.09" stroke="#2bbe2b" stroke-width="0.6"/>
<line x1="671.30" y1="236.62" x2="671.30" y2="262.68" stroke="#49d5d5" stroke-width="0.6"/>
<line x1="676.30" y1="236.89" x2="676.30" y2="262.00" stroke="#66d5d5" stroke-width="0.6"/>
<line x1="680.30" y1="237.09" x2="680.30" y2="261.45" stroke="#93d5cd" stroke-width="0.6"/>
<line x1="684.30" y1="237.21" x2="684.30" y2="260.90" stroke="#57cdb0" stroke-width="0.6"/>
<line x1="690.30" y1="237.39" x2="690.30" y2="260.08" stroke="#74d5a1" stroke-width="0.6"/>
<line x1="697.30" y1="237.69" x2="697.30" y2="259.12" stroke="#66cdb0" stroke-width="0.6"/>
<line x1="702.30" y1="237.92" x2="702.30" y2="258.43" stroke="#74d5d5" stroke-width="0.6"/>
<line x1="708.30" y1="238.19" x2="708.30" y2="257.61" stroke="#57cdcd" stroke-width="0.6"/>
<line x1="712.30" y1="238.38" x2="712.30" y2="257.06" stroke="#84d5cd" stroke-width="0.6"/>
<line x1="716.30" y1="238.56" x2="716.30" y2="256.51" stroke="#49be66" stroke-width="0.6"/>
<line x1="720.30" y1="238.14" x2="720.30" y2="255.96" stroke="#0ebe0e" stroke-width="0.6"/>
<line x1="722.30" y1="237.83" x2="722.30" y2="255.68" stroke="#cdd584" stroke-width="0.6"/>
<line x1="727.30" y1="236.46" x2="727.30" y2="255.00" stroke="#a1d574" stroke-width="0.6"/>
<line x1="734.30" y1="234.83" x2="734.30" y2="254.04" stroke="#57be49" stroke-width="0.6"/>
<line x1="737.30" y1="234.22" x2="737.30" y2="253.62" stroke="#93cd66" stroke-width="0.6"/>
<line x1="739.30" y1="233.72" x2="739.30" y2="253.35" stroke="#d5be00" stroke-width="0.6"/>
<line x1="742.30" y1="232.95" x2="742.30" y2="252.94" stroke="#c6b000" stroke-width="0.6"/>
<line x1="745.80" y1="232.07" x2="745.80" y2="252.46" stroke="#00c600" stroke-width="0.6"/>
<line x1="760.30" y1="229.48" x2="760.30" y2="250.46" stroke="#0ebe0e" stroke-width="0.6"/>
<line x1="766.30" y1="228.58" x2="766.30" y2="249.64" stroke="#84cd57" stroke-width="0.6"/>
<line x1="770.30" y1="227.98" x2="770.30" y2="249.09" stroke="#cdd58b" stroke-width="0.6"/>
<line x1="775.30" y1="227.17" x2="775.30" y2="248.40" stroke="#b0d574" stroke-width="0.6"/>
<line x1="780.30" y1="225.80" x2="780.30" y2="247.71" stroke="#d5d584" stroke-width="0.6"/>
<line x1="783.30" y1="224.98" x2="783.30" y2="247.30" stroke="#2bbe2b" stroke-width="0.6"/>
<line x1="786.30" y1="224.16" x2="786.30" y2="246.89" stroke="#becd74" stroke-width="0.6"/>
<line x1="789.30" y1="222.44" x2="789.30" y2="246.48" stroke="#84cd57" stroke-width="0.6"/>
<line x1="793.30" y1="221.29" x2="793.30" y2="245.92" stroke="#74d5cd" stroke-width="0.6"/>
<line x1="801.30" y1="221.09" x2="801.30" y2="244.82" stroke="#66be93" stroke-width="0.6"/>
<line x1="806.30" y1="220.96" x2="806.30" y2="244.14" stroke="#3abe3a" stroke-width="0.6"/>
<line x1="812.30" y1="220.59" x2="812.30" y2="243.31" stroke="#84d5b8" stroke-width="0.6"/>
<line x1="815.30" y1="220.40" x2="815.30" y2="242.90" stroke="#1dbe1d" stroke-width="0.6"/>
<line x1="820.30" y1="220.04" x2="820.30" y2="242.21" stroke="#93d566" stroke-width="0.6"/>
<line x1="825.30" y1="219.62" x2="825.30" y2="241.52" stroke="#bed584" stroke-width="0.6"/>
<line x1="830.30" y1="218.61" x2="830.30" y2="240.83" stroke="#93cd66" stroke-width="0.6"/>
<line x1="835.30" y1="217.60" x2="835.30" y2="240.14" stroke="#cdd58b" stroke-width="0.6"/>
<line x1="838.30" y1="216.99" x2="838.30" y2="239.73" stroke="#3ac63a" stroke-width="0.6"/>
<line x1="841.30" y1="216.39" x2="841.30" y2="239.31" stroke="#a1cd66" stroke-width="0.6"/>
<line x1="844.30" y1="215.78" x2="844.30" y2="238.90" stroke="#1dbe1d" stroke-width="0.6"/>
<line x1="846.30" y1="215.38" x2="846.30" y2="238.63" stroke="#2bbe2b" stroke-width="0.6"/>
<line x1="849.30" y1="214.77" x2="849.30" y2="238.21" stroke="#49cd66" stroke-width="0.6"/>
<line x1="852.30" y1="214.45" x2="852.30" y2="237.80" stroke="#1dbe1d" stroke-width="0.6"/>
<line x1="855.30" y1="214.18" x2="855.30" y2="237.39" stroke="#49d5d5" stroke-width="0.6"/>
<line x1="858.30" y1="213.95" x2="858.30" y2="236.97" stroke="#74d5db" stroke-width="0.6"/>
<line x1="861.30" y1="213.79" x2="861.30" y2="236.56" stroke="#49c6cd" stroke-width="0.6"/>
<line x1="865.30" y1="213.58" x2="865.30" y2="236.01" stroke="#0ebe0e" stroke-width="0.6"/>
<line x1="870.30" y1="213.26" x2="870.30" y2="235.32" stroke="#49cd3a" stroke-width="0.6"/>
<line x1="875.30" y1="212.51" x2="875.30" y2="234.63" stroke="#84cd57" stroke-width="0.6"/>
<line x1="878.30" y1="212.06" x2="878.30" y2="234.21" stroke="#3abe3a" stroke-width="0.6"/>
<line x1="882.30" y1="211.46" x2="882.30" y2="233.66" stroke="#00c600" stroke-width="0.6"/>
<line x1="890.30" y1="209.85" x2="890.30" y2="232.56" stroke="#bebe66" stroke-width="0.6"/>
<line x1="893.30" y1="209.24" x2="893.30" y2="232.14" stroke="#d5d566" stroke-width="0.6"/>
<line x1="896.30" y1="208.42" x2="896.30" y2="231.73" stroke="#cdcd3a" stroke-width="0.6"/>
<line x1="899.30" y1="207.37" x2="899.30" y2="231.32" stroke="#c6cd66" stroke-width="0.6"/>
<line x1="902.30" y1="206.32" x2="902.30" y2="230.90" stroke="#d5d566" stroke-width="0.6"/>
<line x1="906.30" y1="204.92" x2="906.30" y2="230.35" stroke="#b8b857" stroke-width="0.6"/>
<line x1="910.30" y1="203.13" x2="910.30" y2="229.80" stroke="#0ebe0e" stroke-width="0.6"/>
<line x1="915.30" y1="202.25" x2="915.30" y2="229.11" stroke="#57d584" stroke-width="0.6"/>
<line x1="923.30" y1="201.79" x2="923.30" y2="228.00" stroke="#1dbe1d" stroke-width="0.6"/>
<line x1="930.30" y1="201.27" x2="930.30" y2="227.03" stroke="#3ac63a" stroke-width="0.6"/>
<line x1="935.30" y1="200.82" x2="935.30" y2="226.34" stroke="#0ebe0e" stroke-width="0.6"/>
<line x1="940.30" y1="200.31" x2="940.30" y2="225.65" stroke="#84d5b8" stroke-width="0.6"/>
<line x1="943.30" y1="200.00" x2="943.30" y2="225.24" stroke="#1dbe1d" stroke-width="0.6"/>
<line x1="947.30" y1="199.70" x2="947.30" y2="224.68" stroke="#66cd93" stroke-width="0.6"/>
<line x1="951.30" y1="199.45" x2="951.30" y2="224.13" stroke="#2bbe2b" stroke-width="0.6"/>
<line x1="955.30" y1="199.20" x2="955.30" y2="223.58" stroke="#57cd66" stroke-width="0.6"/>
<line x1="958.30" y1="199.00" x2="958.30" y2="223.16" stroke="#84d5be" stroke-width="0.6"/>
<line x1="962.30" y1="198.71" x2="962.30" y2="222.61" stroke="#74d5b0" stroke-width="0.6"/>
<line x1="965.30" y1="198.49" x2="965.30" y2="222.20" stroke="#3abe3a" stroke-width="0.6"/>
<line x1="970.30" y1="198.11" x2="970.30" y2="221.50" stroke="#3ac63a" stroke-width="0.6"/>
<line x1="975.30" y1="197.64" x2="975.30" y2="220.81" stroke="#00c600" stroke-width="0.6"/>
<line x1="985.30" y1="196.28" x2="985.30" y2="219.43" stroke="#49c63a" stroke-width="0.6"/>
<line x1="988.30" y1="195.54" x2="988.30" y2="219.01" stroke="#becd74" stroke-width="0.6"/>
<line x1="991.30" y1="195.02" x2="991.30" y2="218.60" stroke="#cdbe3a" stroke-width="0.6"/>
<polygon points="26.50,348.65 30.29,348.19 34.07,347.66 37.86,347.13 41.64,346.60 45.43,346.07 49.21,345.54 53.00,345.01 48.50,340.81 44.71,341.33 40.93,341.85 37.14,342.38 33.36,342.90 29.57,343.42 25.79,343.95 22.00,344.40" fill="#0c9c0c"/>
<polygon points="53.00,345.01 56.33,344.34 59.67,343.51 63.00,342.68 58.50,338.49 55.17,339.32 51.83,340.15 48.50,340.81" fill="#9c9c5d"/>
<polygon points="63.00,342.68 65.00,342.18 67.00,341.68 62.50,337.50 60.50,338.00 58.50,338.49" fill="#319c31"/>
<polygon points="67.00,341.68 70.50,340.81 74.00,339.93 69.50,335.76 66.00,336.63 62.50,337.50" fill="#a2a256"/>
<polygon points="74.00,339.93 76.00,339.43 78.00,338.93 73.50,334.77 71.50,335.27 69.50,335.76" fill="#31a231"/>
<polygon points="78.00,338.93 81.00,338.25 84.00,337.65 79.50,333.50 76.50,334.10 73.50,334.77" fill="#aeae63"/>
<polygon points="84.00,337.65 87.00,337.04 82.50,332.90 79.50,333.50" fill="#3ea23e"/>
<polygon points="87.00,337.04 89.50,336.54 92.00,336.03 87.50,331.90 85.00,332.40 82.50,332.90" fill="#b5b556"/>
<polygon points="92.00,336.03 94.50,335.53 97.00,335.03 92.50,330.90 90.00,331.40 87.50,331.90" fill="#4aa84a"/>
<polygon points="97.00,335.03 100.00,334.42 103.00,333.81 98.50,329.70 95.50,330.30 92.50,330.90" fill="#63ae56"/>
<polygon points="103.00,333.81 105.50,333.31 108.00,332.81 103.50,328.70 101.00,329.20 98.50,329.70" fill="#3ea83e"/>
<polygon points="108.00,332.81 111.00,332.20 114.00,331.59 109.50,327.50 106.50,328.10 103.50,328.70" fill="#aeb570"/>
<polygon points="114.00,331.59 116.00,331.19 118.00,330.79 113.50,326.70 111.50,327.10 109.50,327.50" fill="#56ae4a"/>
<polygon points="118.00,330.79 121.75,330.03 125.50,329.27 129.25,328.52 133.00,327.85 128.50,323.79 124.75,324.45 121.00,325.20 117.25,325.95 113.50,326.70" fill="#0cae0c"/>
<polygon points="133.00,327.85 135.00,327.50 137.00,327.15 132.50,323.10 130.50,323.45 128.50,323.79" fill="#259525"/>
<polygon points="137.00,327.15 140.00,326.70 143.00,326.25 138.50,322.21 135.50,322.66 132.50,323.10" fill="#63a24a"/>
<polygon points="143.00,326.25 146.50,325.73 150.00,325.22 145.50,321.19 142.00,321.69 138.50,322.21" fill="#95ae56"/>
<polygon points="150.00,325.22 152.00,324.98 147.50,320.95 145.50,321.19" fill="#25a231"/>
<polygon points="152.00,324.98 155.00,324.61 150.50,320.59 147.50,320.95" fill="#3ea870"/>
<polygon points="155.00,324.61 158.00,324.25 153.50,320.23 150.50,320.59" fill="#31a263"/>
<polygon points="158.00,324.25 161.00,323.88 156.50,319.87 153.50,320.23" fill="#4aae7c"/>
<polygon points="161.00,323.88 164.00,323.59 167.00,323.35 162.50,319.35 159.50,319.59 156.50,319.87" fill="#31a270"/>
<polygon points="167.00,323.35 169.50,323.14 172.00,322.94 167.50,318.95 165.00,319.15 162.50,319.35" fill="#4aae7c"/>
<polygon points="172.00,322.94 174.67,322.72 177.33,322.45 180.00,322.18 175.50,318.20 172.83,318.47 170.17,318.73 167.50,318.95" fill="#56ae89"/>
<polygon points="180.00,322.18 183.50,321.82 187.00,321.46 182.50,317.50 179.00,317.85 175.50,318.20" fill="#3ea270"/>
<polygon points="187.00,321.46 189.50,321.26 192.00,321.05 187.50,317.10 185.00,317.30 182.50,317.50" fill="#0c9c25"/>
<polygon points="192.00,321.05 194.67,320.84 197.33,320.62 200.00,320.39 195.50,316.45 192.83,316.67 190.17,316.89 187.50,317.10" fill="#00a200"/>
<polygon points="200.00,320.39 202.00,320.19 204.00,319.98 199.50,316.05 197.50,316.25 195.50,316.45" fill="#25a23e"/>
<polygon points="204.00,319.98 207.00,319.68 210.00,319.37 205.50,315.45 202.50,315.75 199.50,316.05" fill="#31a263"/>
<polygon points="210.00,319.37 213.00,319.04 216.00,318.64 211.50,314.73 208.50,315.12 205.50,315.45" fill="#3eae70"/>
<polygon points="216.00,318.64 219.00,318.20 222.00,317.54 225.00,316.87 220.50,312.98 217.50,313.64 214.50,314.29 211.50,314.73" fill="#0ca20c"/>
<polygon points="225.00,316.87 228.50,316.00 232.00,315.12 227.50,311.24 224.00,312.11 220.50,312.98" fill="#95a24a"/>
<polygon points="232.00,315.12 234.00,314.62 236.00,314.12 231.50,310.25 229.50,310.74 227.50,311.24" fill="#aeae56"/>
<polygon points="236.00,314.12 238.00,313.62 240.00,313.12 235.50,309.26 233.50,309.75 231.50,310.25" fill="#63a24a"/>
<polygon points="240.00,313.12 242.50,312.50 245.00,311.87 240.50,308.02 238.00,308.64 235.50,309.26" fill="#a8a863"/>
<polygon points="245.00,311.87 248.00,311.13 243.50,307.27 240.50,308.02" fill="#4aa231"/>
<polygon points="248.00,311.13 250.67,310.55 253.33,310.08 256.00,309.61 251.50,305.77 248.83,306.24 246.17,306.70 243.50,307.27" fill="#aeb570"/>
<polygon points="256.00,309.61 258.00,309.19 253.50,305.35 251.50,305.77" fill="#31a231"/>
<polygon points="258.00,309.19 260.00,308.69 262.00,308.19 257.50,304.36 255.50,304.86 253.50,305.35" fill="#b5b563"/>
<polygon points="262.00,308.19 265.00,307.44 260.50,303.62 257.50,304.36" fill="#31a231"/>
<polygon points="265.00,307.44 268.00,306.69 263.50,302.87 260.50,303.62" fill="#7ca256"/>
<polygon points="268.00,306.69 270.00,306.21 272.00,305.81 267.50,302.00 265.50,302.40 263.50,302.87" fill="#18a218"/>
<polygon points="272.00,305.81 274.00,305.41 269.50,301.60 267.50,302.00" fill="#70a256"/>
<polygon points="274.00,305.41 277.00,304.80 280.00,304.20 275.50,300.40 272.50,301.00 269.50,301.60" fill="#0ca20c"/>
<polygon points="280.00,304.20 282.00,303.79 284.00,303.48 279.50,299.70 277.50,300.00 275.50,300.40" fill="#959556"/>
<polygon points="284.00,303.48 287.50,302.95 291.00,302.41 294.50,301.87 298.00,301.35 293.50,297.58 290.00,298.10 286.50,298.63 283.00,299.16 279.50,299.70" fill="#00ac00"/>
<polygon points="298.00,301.35 301.00,300.90 296.50,297.14 293.50,297.58" fill="#18a218"/>
<polygon points="301.00,300.90 304.50,300.37 308.00,299.78 303.50,296.03 300.00,296.62 296.50,297.14" fill="#aeb570"/>
<polygon points="308.00,299.78 310.50,299.22 313.00,298.67 308.50,294.93 306.00,295.48 303.50,296.03" fill="#3ea231"/>
<polygon points="313.00,298.67 316.00,298.00 311.50,294.27 308.50,294.93" fill="#70a256"/>
<polygon points="316.00,298.00 318.00,297.56 320.00,297.13 315.50,293.41 313.50,293.83 311.50,294.27" fill="#31a231"/>
<polygon points="320.00,297.13 323.33,296.53 326.67,295.92 330.00,295.32 325.50,291.61 322.17,292.21 318.83,292.81 315.50,293.41" fill="#00a200"/>
<polygon points="330.00,295.32 333.50,294.72 337.00,294.18 332.50,290.49 329.00,291.02 325.50,291.61" fill="#3ea831"/>
<polygon points="337.00,294.18 340.33,293.67 343.67,292.80 347.00,291.75 342.50,288.07 339.17,289.12 335.83,289.98 332.50,290.49" fill="#b5b569"/>
<polygon points="347.00,291.75 350.50,290.20 354.00,288.33 349.50,284.67 346.00,286.53 342.50,288.07" fill="#b5b544"/>
<polygon points="354.00,288.33 356.00,287.97 351.50,284.31 349.50,284.67" fill="#a8a856"/>
<polygon points="356.00,287.97 358.00,287.86 360.00,287.74 355.50,284.09 353.50,284.20 351.50,284.31" fill="#189c18"/>
<polygon points="360.00,287.74 362.00,287.72 357.50,284.07 355.50,284.09" fill="#3e9c9c"/>
<polygon points="362.00,287.72 364.00,288.00 359.50,284.36 357.50,284.07" fill="#3eb5b5"/>
<polygon points="364.00,288.00 366.00,288.28 361.50,284.64 359.50,284.36" fill="#70b5b5"/>
<polygon points="366.00,288.28 368.00,288.57 363.50,284.93 361.50,284.64" fill="#3eaeae"/>
<polygon points="368.00,288.57 371.00,288.78 366.50,285.14 363.50,284.93" fill="#18aeba"/>
<polygon points="371.00,288.78 373.00,288.89 368.50,285.26 366.50,285.14" fill="#3eaeb5"/>
<polygon points="373.00,288.89 375.00,289.00 370.50,285.37 368.50,285.26" fill="#18a218"/>
<polygon points="375.00,289.00 378.00,288.66 373.50,285.04 370.50,285.37" fill="#aeae63"/>
<polygon points="378.00,288.66 381.00,288.23 376.50,284.61 373.50,285.04" fill="#b5b570"/>
<polygon points="381.00,288.23 384.00,287.71 379.50,284.10 376.50,284.61" fill="#a8ae63"/>
<polygon points="384.00,287.71 387.00,287.10 382.50,283.50 379.50,284.10" fill="#aeb570"/>
<polygon points="387.00,287.10 390.00,286.46 385.50,282.86 382.50,283.50" fill="#7cae56"/>
<polygon points="390.00,286.46 392.50,285.74 395.00,285.03 390.50,281.44 388.00,282.15 385.50,282.86" fill="#25ae25"/>
<polygon points="395.00,285.03 397.00,284.52 392.50,280.94 390.50,281.44" fill="#31ae31"/>
<polygon points="397.00,284.52 400.00,283.79 395.50,280.21 392.50,280.94" fill="#3eae31"/>
<polygon points="400.00,283.79 403.00,283.09 398.50,279.51 395.50,280.21" fill="#63ae4a"/>
<polygon points="403.00,283.09 405.00,282.73 407.00,282.38 402.50,278.81 400.50,279.16 398.50,279.51" fill="#7cae56"/>
<polygon points="407.00,282.38 409.50,281.94 412.00,281.50 407.50,277.94 405.00,278.38 402.50,278.81" fill="#0ca20c"/>
<polygon points="412.00,281.50 415.00,281.00 410.50,277.45 407.50,277.94" fill="#a2a856"/>
<polygon points="415.00,281.00 417.50,280.75 420.00,280.49 415.50,276.95 413.00,277.20 410.50,277.45" fill="#31a831"/>
<polygon points="420.00,280.49 422.00,280.29 424.00,280.09 419.50,276.55 417.50,276.75 415.50,276.95" fill="#56b59c"/>
<polygon points="424.00,280.09 426.00,279.88 428.00,279.71 423.50,276.18 421.50,276.35 419.50,276.55" fill="#4aae7c"/>
<polygon points="428.00,279.71 430.00,279.57 432.00,279.43 427.50,275.91 425.50,276.05 423.50,276.18" fill="#18a218"/>
<polygon points="432.00,279.43 434.50,279.26 437.00,279.08 432.50,275.57 430.00,275.74 427.50,275.91" fill="#63b5a2"/>
<polygon points="437.00,279.08 439.00,278.94 441.00,278.71 436.50,275.20 434.50,275.43 432.50,275.57" fill="#0ca20c"/>
<polygon points="441.00,278.71 444.50,278.24 448.00,277.77 443.50,274.28 440.00,274.74 436.50,275.20" fill="#70ae56"/>
<polygon points="448.00,277.77 451.50,277.30 455.00,276.57 450.50,273.09 447.00,273.82 443.50,274.28" fill="#0ca20c"/>
<polygon points="455.00,276.57 457.50,276.02 460.00,275.46 455.50,271.99 453.00,272.54 450.50,273.09" fill="#7cb556"/>
<polygon points="460.00,275.46 462.50,274.91 465.00,274.37 460.50,270.91 458.00,271.44 455.50,271.99" fill="#95b563"/>
<polygon points="465.00,274.37 467.67,273.89 470.33,273.40 473.00,272.92 468.50,269.47 465.83,269.95 463.17,270.43 460.50,270.91" fill="#18a218"/>
<polygon points="473.00,272.92 476.00,272.37 471.50,268.93 468.50,269.47" fill="#a2ae63"/>
<polygon points="476.00,272.37 478.00,271.99 480.00,271.59 475.50,268.15 473.50,268.55 471.50,268.93" fill="#3ea231"/>
<polygon points="480.00,271.59 483.00,270.98 478.50,267.55 475.50,268.15" fill="#0ca20c"/>
<polygon points="483.00,270.98 485.00,270.58 487.00,270.17 482.50,266.75 480.50,267.15 478.50,267.55" fill="#95ae63"/>
<polygon points="487.00,270.17 489.50,269.67 492.00,269.05 487.50,265.63 485.00,266.25 482.50,266.75" fill="#0ca20c"/>
<polygon points="492.00,269.05 495.00,268.30 498.00,267.60 493.50,264.20 490.50,264.89 487.50,265.63" fill="#18a218"/>
<polygon points="498.00,267.60 500.00,267.20 502.00,266.80 497.50,263.40 495.50,263.80 493.50,264.20" fill="#70ae56"/>
<polygon points="502.00,266.80 504.00,266.39 506.00,265.99 501.50,262.60 499.50,263.00 497.50,263.40" fill="#95b570"/>
<polygon points="506.00,265.99 509.00,265.38 504.50,262.00 501.50,262.60" fill="#63ae4a"/>
<polygon points="509.00,265.38 512.00,264.70 507.50,261.32 504.50,262.00" fill="#a2b570"/>
<polygon points="512.00,264.70 514.00,264.23 516.00,263.76 511.50,260.39 509.50,260.86 507.50,261.32" fill="#70ae56"/>
<polygon points="516.00,263.76 518.00,263.30 520.00,262.83 515.50,259.46 513.50,259.93 511.50,260.39" fill="#9cb570"/>
<polygon points="520.00,262.83 523.00,262.14 518.50,258.78 515.50,259.46" fill="#aeb570"/>
<polygon points="523.00,262.14 525.00,261.69 527.00,261.25 522.50,257.90 520.50,258.34 518.50,258.78" fill="#4aa231"/>
<polygon points="527.00,261.25 529.50,260.70 532.00,260.14 527.50,256.80 525.00,257.35 522.50,257.90" fill="#63ae4a"/>
<polygon points="532.00,260.14 535.00,259.51 530.50,256.18 527.50,256.80" fill="#25a225"/>
<polygon points="535.00,259.51 538.00,259.06 533.50,255.73 530.50,256.18" fill="#3eae3e"/>
<polygon points="538.00,259.06 541.00,258.61 536.50,255.29 533.50,255.73" fill="#0ca20c"/>
<polygon points="541.00,258.61 543.00,258.31 545.00,258.01 540.50,254.70 538.50,254.99 536.50,255.29" fill="#25a831"/>
<polygon points="545.00,258.01 548.67,257.49 552.33,257.00 556.00,256.51 559.67,256.03 563.33,255.78 567.00,255.52 562.50,252.24 558.83,252.49 555.17,252.74 551.50,253.21 547.83,253.70 544.17,254.18 540.50,254.70" fill="#00ac00"/>
<polygon points="567.00,255.52 570.00,255.31 565.50,252.04 562.50,252.24" fill="#0ca20c"/>
<polygon points="570.00,255.31 573.00,254.94 576.00,254.24 571.50,250.97 568.50,251.67 565.50,252.04" fill="#63ae4a"/>
<polygon points="576.00,254.24 579.00,253.53 574.50,250.28 571.50,250.97" fill="#4aa231"/>
<polygon points="579.00,253.53 581.00,253.07 576.50,249.81 574.50,250.28" fill="#a2a863"/>
<polygon points="581.00,253.07 583.00,252.60 585.00,252.12 580.50,248.88 578.50,249.35 576.50,249.81" fill="#9cb570"/>
<polygon points="585.00,252.12 588.00,251.37 583.50,248.13 580.50,248.88" fill="#a8b570"/>
<polygon points="588.00,251.37 590.00,250.87 585.50,247.64 583.50,248.13" fill="#70a24a"/>
<polygon points="590.00,250.87 592.50,250.25 595.00,249.63 590.50,246.40 588.00,247.02 585.50,247.64" fill="#aeb576"/>
<polygon points="595.00,249.63 597.00,249.13 599.00,248.88 594.50,245.66 592.50,245.90 590.50,246.40" fill="#7cae56"/>
<polygon points="599.00,248.88 601.00,248.64 596.50,245.42 594.50,245.66" fill="#25a225"/>
<polygon points="601.00,248.64 603.00,248.39 598.50,245.18 596.50,245.42" fill="#0ca20c"/>
<polygon points="603.00,248.39 606.00,248.03 601.50,244.82 598.50,245.18" fill="#3eae63"/>
<polygon points="606.00,248.03 608.67,247.70 611.33,247.60 614.00,247.59 609.50,244.40 606.83,244.40 604.17,244.50 601.50,244.82" fill="#63b5a2"/>
<polygon points="614.00,247.59 616.50,247.59 619.00,247.59 614.50,244.40 612.00,244.40 609.50,244.40" fill="#18a218"/>
<polygon points="619.00,247.59 622.00,247.58 617.50,244.40 614.50,244.40" fill="#3eae70"/>
<polygon points="622.00,247.58 625.00,247.58 620.50,244.40 617.50,244.40" fill="#4aaeae"/>
<polygon points="625.00,247.58 627.50,247.57 630.00,247.57 625.50,244.40 623.00,244.40 620.50,244.40" fill="#56b5b5"/>
<polygon points="630.00,247.57 632.00,247.56 634.00,247.56 629.50,244.40 627.50,244.40 625.50,244.40" fill="#7cb5ba"/>
<polygon points="634.00,247.56 637.00,247.55 640.00,246.83 635.50,243.68 632.50,244.40 629.50,244.40" fill="#00a200"/>
<polygon points="640.00,246.83 643.00,245.95 638.50,242.80 635.50,243.68" fill="#b5b556"/>
<polygon points="643.00,245.95 645.50,245.20 648.00,244.46 643.50,241.32 641.00,242.06 638.50,242.80" fill="#b5b53e"/>
<polygon points="648.00,244.46 650.50,243.71 653.00,242.97 648.50,239.84 646.00,240.58 643.50,241.32" fill="#aeb556"/>
<polygon points="653.00,242.97 655.50,242.22 658.00,241.45 653.50,238.34 651.00,239.10 648.50,239.84" fill="#b5b563"/>
<polygon points="658.00,241.45 661.00,240.53 664.00,239.62 659.50,236.51 656.50,237.42 653.50,238.34" fill="#aeb570"/>
<polygon points="664.00,239.62 666.00,239.01 668.00,238.10 663.50,235.00 661.50,235.90 659.50,236.51" fill="#a8ae56"/>
<polygon points="668.00,238.10 671.00,236.62 666.50,233.53 663.50,235.00" fill="#25a225"/>
<polygon points="671.00,236.62 673.50,236.75 676.00,236.89 671.50,233.81 669.00,233.67 666.50,233.53" fill="#3eb5b5"/>
<polygon points="676.00,236.89 678.00,237.00 680.00,237.09 675.50,234.02 673.50,233.92 671.50,233.81" fill="#56b5b5"/>
<polygon points="680.00,237.09 682.00,237.15 684.00,237.21 679.50,234.14 677.50,234.08 675.50,234.02" fill="#7cb5ae"/>
<polygon points="684.00,237.21 687.00,237.30 690.00,237.39 685.50,234.34 682.50,234.24 679.50,234.14" fill="#4aae95"/>
<polygon points="690.00,237.39 693.50,237.52 697.00,237.69 692.50,234.64 689.00,234.47 685.50,234.34" fill="#63b589"/>
<polygon points="697.00,237.69 699.50,237.80 702.00,237.92 697.50,234.88 695.00,234.76 692.50,234.64" fill="#56ae95"/>
<polygon points="702.00,237.92 705.00,238.06 708.00,238.19 703.50,235.17 700.50,235.02 697.50,234.88" fill="#63b5b5"/>
<polygon points="708.00,238.19 710.00,238.29 712.00,238.38 707.50,235.36 705.50,235.26 703.50,235.17" fill="#4aaeae"/>
<polygon points="712.00,238.38 714.00,238.47 716.00,238.56 711.50,235.55 709.50,235.46 707.50,235.36" fill="#70b5ae"/>
<polygon points="716.00,238.56 718.00,238.45 720.00,238.14 715.50,235.14 713.50,235.45 711.50,235.55" fill="#3ea256"/>
<polygon points="720.00,238.14 722.00,237.83 717.50,234.83 715.50,235.14" fill="#0ca20c"/>
<polygon points="722.00,237.83 724.50,237.17 727.00,236.46 722.50,233.46 720.00,234.18 717.50,234.83" fill="#aeb570"/>
<polygon points="727.00,236.46 730.50,235.54 734.00,234.83 729.50,231.85 726.00,232.55 722.50,233.46" fill="#89b563"/>
<polygon points="734.00,234.83 737.00,234.22 732.50,231.25 729.50,231.85" fill="#4aa23e"/>
<polygon points="737.00,234.22 739.00,233.72 734.50,230.75 732.50,231.25" fill="#7cae56"/>
<polygon points="739.00,233.72 742.00,232.95 737.50,229.99 734.50,230.75" fill="#b5a200"/>
<polygon points="742.00,232.95 745.50,232.07 741.00,229.11 737.50,229.99" fill="#a89500"/>
<polygon points="745.50,232.07 749.12,231.15 752.75,230.56 756.38,230.02 760.00,229.48 755.50,226.55 751.88,227.08 748.25,227.62 744.62,228.19 741.00,229.11" fill="#00a800"/>
<polygon points="760.00,229.48 763.00,229.03 766.00,228.58 761.50,225.66 758.50,226.10 755.50,226.55" fill="#0ca20c"/>
<polygon points="766.00,228.58 768.00,228.28 770.00,227.98 765.50,225.07 763.50,225.36 761.50,225.66" fill="#70ae4a"/>
<polygon points="770.00,227.98 772.50,227.61 775.00,227.17 770.50,224.26 768.00,224.70 765.50,225.07" fill="#aeb576"/>
<polygon points="775.00,227.17 777.50,226.48 780.00,225.80 775.50,222.90 773.00,223.58 770.50,224.26" fill="#95b563"/>
<polygon points="780.00,225.80 783.00,224.98 778.50,222.09 775.50,222.90" fill="#b5b570"/>
<polygon points="783.00,224.98 786.00,224.16 781.50,221.27 778.50,222.09" fill="#25a225"/>
<polygon points="786.00,224.16 789.00,222.44 784.50,219.56 781.50,221.27" fill="#a2ae63"/>
<polygon points="789.00,222.44 791.00,221.74 793.00,221.29 788.50,218.41 786.50,218.86 784.50,219.56" fill="#70ae4a"/>
<polygon points="793.00,221.29 795.67,221.15 798.33,221.12 801.00,221.09 796.50,218.23 793.83,218.26 791.17,218.28 788.50,218.41" fill="#63b5ae"/>
<polygon points="801.00,221.09 803.50,221.06 806.00,220.96 801.50,218.11 799.00,218.21 796.50,218.23" fill="#56a27c"/>
<polygon points="806.00,220.96 809.00,220.77 812.00,220.59 807.50,217.75 804.50,217.93 801.50,218.11" fill="#31a231"/>
<polygon points="812.00,220.59 815.00,220.40 810.50,217.56 807.50,217.75" fill="#70b59c"/>
<polygon points="815.00,220.40 817.50,220.22 820.00,220.04 815.50,217.22 813.00,217.39 810.50,217.56" fill="#18a218"/>
<polygon points="820.00,220.04 822.50,219.86 825.00,219.62 820.50,216.80 818.00,217.04 815.50,217.22" fill="#7cb556"/>
<polygon points="825.00,219.62 827.50,219.11 830.00,218.61 825.50,215.80 823.00,216.30 820.50,216.80" fill="#a2b570"/>
<polygon points="830.00,218.61 832.50,218.10 835.00,217.60 830.50,214.80 828.00,215.30 825.50,215.80" fill="#7cae56"/>
<polygon points="835.00,217.60 838.00,216.99 833.50,214.20 830.50,214.80" fill="#aeb576"/>
<polygon points="838.00,216.99 841.00,216.39 836.50,213.60 833.50,214.20" fill="#31a831"/>
<polygon points="841.00,216.39 844.00,215.78 839.50,213.00 836.50,213.60" fill="#89ae56"/>
<polygon points="844.00,215.78 846.00,215.38 841.50,212.60 839.50,213.00" fill="#18a218"/>
<polygon points="846.00,215.38 849.00,214.77 844.50,212.00 841.50,212.60" fill="#25a225"/>
<polygon points="849.00,214.77 852.00,214.45 847.50,211.68 844.50,212.00" fill="#3eae56"/>
<polygon points="852.00,214.45 855.00,214.18 850.50,211.42 847.50,211.68" fill="#18a218"/>
<polygon points="855.00,214.18 858.00,213.95 853.50,211.20 850.50,211.42" fill="#3eb5b5"/>
<polygon points="858.00,213.95 861.00,213.79 856.50,211.04 853.50,211.20" fill="#63b5ba"/>
<polygon points="861.00,213.79 863.00,213.68 865.00,213.58 860.50,210.83 858.50,210.94 856.50,211.04" fill="#3ea8ae"/>
<polygon points="865.00,213.58 867.50,213.44 870.00,213.26 865.50,210.53 863.00,210.70 860.50,210.83" fill="#0ca20c"/>
<polygon points="870.00,213.26 872.50,212.89 875.00,212.51 870.50,209.79 868.00,210.16 865.50,210.53" fill="#3eae31"/>
<polygon points="875.00,212.51 878.00,212.06 873.50,209.34 870.50,209.79" fill="#70ae4a"/>
<polygon points="878.00,212.06 880.00,211.76 882.00,211.46 877.50,208.75 875.50,209.05 873.50,209.34" fill="#31a231"/>
<polygon points="882.00,211.46 884.67,210.92 887.33,210.39 890.00,209.85 885.50,207.15 882.83,207.68 880.17,208.22 877.50,208.75" fill="#00a800"/>
<polygon points="890.00,209.85 893.00,209.24 888.50,206.55 885.50,207.15" fill="#a2a256"/>
<polygon points="893.00,209.24 896.00,208.42 891.50,205.73 888.50,206.55" fill="#b5b556"/>
<polygon points="896.00,208.42 899.00,207.37 894.50,204.68 891.50,205.73" fill="#aeae31"/>
<polygon points="899.00,207.37 902.00,206.32 897.50,203.64 894.50,204.68" fill="#a8ae56"/>
<polygon points="902.00,206.32 904.00,205.62 906.00,204.92 901.50,202.25 899.50,202.94 897.50,203.64" fill="#b5b556"/>
<polygon points="906.00,204.92 908.00,204.09 910.00,203.13 905.50,200.47 903.50,201.42 901.50,202.25" fill="#9c9c4a"/>
<polygon points="910.00,203.13 912.50,202.36 915.00,202.25 910.50,199.60 908.00,199.71 905.50,200.47" fill="#0ca20c"/>
<polygon points="915.00,202.25 917.67,202.13 920.33,201.98 923.00,201.79 918.50,199.15 915.83,199.34 913.17,199.48 910.50,199.60" fill="#4ab570"/>
<polygon points="923.00,201.79 926.50,201.53 930.00,201.27 925.50,198.64 922.00,198.90 918.50,199.15" fill="#18a218"/>
<polygon points="930.00,201.27 932.50,201.07 935.00,200.82 930.50,198.20 928.00,198.45 925.50,198.64" fill="#31a831"/>
<polygon points="935.00,200.82 937.50,200.56 940.00,200.31 935.50,197.70 933.00,197.95 930.50,198.20" fill="#0ca20c"/>
<polygon points="940.00,200.31 943.00,200.00 938.50,197.40 935.50,197.70" fill="#70b59c"/>
<polygon points="943.00,200.00 945.00,199.82 947.00,199.70 942.50,197.10 940.50,197.22 938.50,197.40" fill="#18a218"/>
<polygon points="947.00,199.70 949.00,199.57 951.00,199.45 946.50,196.86 944.50,196.98 942.50,197.10" fill="#56ae7c"/>
<polygon points="951.00,199.45 953.00,199.32 955.00,199.20 950.50,196.62 948.50,196.74 946.50,196.86" fill="#25a225"/>
<polygon points="955.00,199.20 958.00,199.00 953.50,196.43 950.50,196.62" fill="#4aae56"/>
<polygon points="958.00,199.00 960.00,198.86 962.00,198.71 957.50,196.14 955.50,196.28 953.50,196.43" fill="#70b5a2"/>
<polygon points="962.00,198.71 965.00,198.49 960.50,195.92 957.50,196.14" fill="#63b595"/>
<polygon points="965.00,198.49 967.50,198.30 970.00,198.11 965.50,195.55 963.00,195.74 960.50,195.92" fill="#31a231"/>
<polygon points="970.00,198.11 972.50,197.87 975.00,197.64 970.50,195.09 968.00,195.32 965.50,195.55" fill="#31a831"/>
<polygon points="975.00,197.64 978.33,197.32 981.67,197.01 985.00,196.28 980.50,193.75 977.17,194.48 973.83,194.78 970.50,195.09" fill="#00a800"/>
<polygon points="985.00,196.28 988.00,195.54 983.50,193.01 980.50,193.75" fill="#3ea831"/>
<polygon points="988.00,195.54 991.00,195.02 986.50,192.50 983.50,193.01" fill="#a2ae63"/>
<polygon points="991.00,195.02 994.00,194.95 989.50,192.44 986.50,192.50" fill="#aea231"/>
<polygon points="993.00,194.83 994.50,193.33 994.50,217.18 993.00,218.32" fill="#e0c030"/>
</g>
<g class="lbl">
<line x1="20.3" y1="290.6" x2="24.1" y2="345.5" stroke="#767676" stroke-width="1.1"/>
<line x1="117.5" y1="272.5" x2="121.0" y2="326.5" stroke="#767676" stroke-width="1.1"/>
<line x1="211.7" y1="262.0" x2="214.4" y2="316.5" stroke="#767676" stroke-width="1.1"/>
<line x1="301.9" y1="244.4" x2="304.0" y2="297.5" stroke="#767676" stroke-width="1.1"/>
<line x1="389.4" y1="230.5" x2="390.5" y2="283.0" stroke="#767676" stroke-width="1.1"/>
<line x1="473.6" y1="219.2" x2="474.2" y2="270.0" stroke="#767676" stroke-width="1.1"/>
<line x1="554.8" y1="204.0" x2="555.2" y2="253.5" stroke="#767676" stroke-width="1.1"/>
<line x1="633.6" y1="196.2" x2="633.4" y2="245.0" stroke="#767676" stroke-width="1.1"/>
<line x1="709.7" y1="187.5" x2="708.8" y2="236.0" stroke="#767676" stroke-width="1.1"/>
<line x1="782.8" y1="173.4" x2="781.0" y2="222.0" stroke="#767676" stroke-width="1.1"/>
<line x1="853.8" y1="164.3" x2="852.5" y2="212.0" stroke="#767676" stroke-width="1.1"/>
<line x1="922.8" y1="153.2" x2="920.3" y2="200.0" stroke="#767676" stroke-width="1.1"/>
<line x1="989.0" y1="147.6" x2="986.8" y2="192.5" stroke="#767676" stroke-width="1.1"/>
<text transform="translate(7.5 288.0) scale(1.1 1)">Start</text>
<text transform="translate(106.0 269.8) scale(1.1 1)">2km</text>
<text transform="translate(200.5 259.7) scale(1.1 1)">4km</text>
<text transform="translate(290.6 242.0) scale(1.1 1)">6km</text>
<text transform="translate(378.1 227.8) scale(1.1 1)">8km</text>
<text transform="translate(459.4 216.1) scale(1.1 1)">10km</text>
<text transform="translate(540.8 200.9) scale(1.1 1)">12km</text>
<text transform="translate(619.4 193.0) scale(1.1 1)">14km</text>
<text transform="translate(695.0 184.8) scale(1.1 1)">16km</text>
<text transform="translate(768.8 170.0) scale(1.1 1)">18km</text>
<text transform="translate(839.6 161.9) scale(1.1 1)">20km</text>
<text transform="translate(908.6 150.0) scale(1.1 1)">22km</text>
<text transform="translate(974.5 144.8) scale(1.1 1)">24km</text>
<text transform="translate(15.3 369.9) scale(1.1 1)">0km</text>
<text transform="translate(112.6 356.8) scale(1.1 1)">2km</text>
<text transform="translate(205.6 343.9) scale(1.1 1)">4km</text>
<text transform="translate(295.8 330.9) scale(1.1 1)">6km</text>
<text transform="translate(382.5 318.7) scale(1.1 1)">8km</text>
<text transform="translate(463.4 307.7) scale(1.1 1)">10km</text>
<text transform="translate(544.2 296.8) scale(1.1 1)">12km</text>
<text transform="translate(622.5 285.8) scale(1.1 1)">14km</text>
<text transform="translate(698.0 275.0) scale(1.1 1)">16km</text>
<text transform="translate(770.8 264.9) scale(1.1 1)">18km</text>
<text transform="translate(841.0 256.0) scale(1.1 1)">20km</text>
<text transform="translate(908.9 245.7) scale(1.1 1)">22km</text>
<text transform="translate(974.9 236.6) scale(1.1 1)">24km</text>
</g>
<g id="legend">
<rect x="1002" y="375" width="13" height="128" fill="url(#lg)"/>
<text x="996" y="379">25%</text>
<text x="996" y="417">10%</text>
<text x="996" y="443">0%</text>
<text x="996" y="468">-10%</text>
<text x="996" y="507">-25%</text>
</g>
</svg>
<div id="vv"><span class="a"><span style="letter-spacing:-5.26px">v</span><span style="letter-spacing:-2.46px">e</span><span style="letter-spacing:-2.91px;font-size:63px;line-height:0">l</span><span style="letter-spacing:-7.56px">o</span></span><span class="b"><span style="letter-spacing:-1.76px">v</span><span style="letter-spacing:-4.88px">i</span><span style="letter-spacing:0.39px">e</span><span style="letter-spacing:-3.13px">w</span><span style="letter-spacing:-2.06px">e</span><span style="letter-spacing:0.00px">r</span></span></div>
<div style="position:absolute;left:143.2px;top:455.7px;width:11.6px;height:11.6px;border-radius:50%;background:#fa0a3a;"></div>
<div id="pb">POWERED BY</div>
<div id="strava">STRAVA</div>
</body></html>
